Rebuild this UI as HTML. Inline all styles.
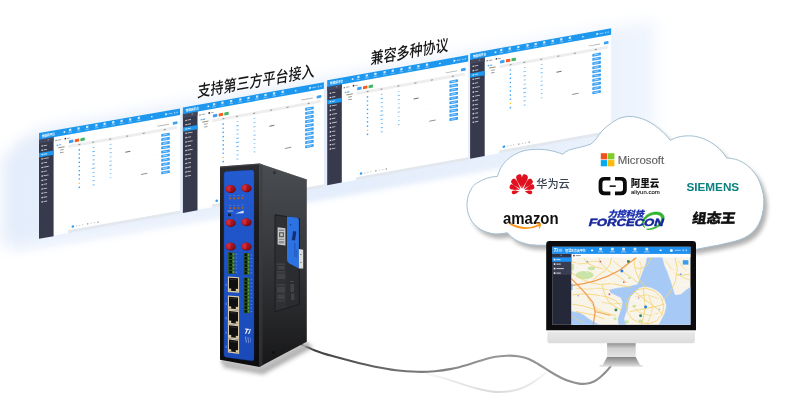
<!DOCTYPE html>
<html lang="zh-CN">
<head>
<meta charset="utf-8">
<title>支持第三方平台接入 兼容多种协议</title>
<style>
html,body{margin:0;padding:0;background:#ffffff;}
body{width:800px;height:418px;overflow:hidden;font-family:"Liberation Sans","Noto Sans CJK SC",sans-serif;}
svg{display:block;}
text{font-family:"Liberation Sans","Noto Sans CJK SC",sans-serif;}
</style>
</head>
<body>
<svg width="800" height="418" viewBox="0 0 800 418">
<defs>
<filter id="b1" x="-20%" y="-200%" width="140%" height="500%"><feGaussianBlur stdDeviation="1"/></filter>
<filter id="b2" x="-30%" y="-30%" width="160%" height="160%"><feGaussianBlur stdDeviation="2.2"/></filter>
<filter id="b3" x="-30%" y="-30%" width="160%" height="160%"><feGaussianBlur stdDeviation="3.5"/></filter>
<filter id="bg" x="-20%" y="-40%" width="140%" height="180%"><feGaussianBlur stdDeviation="8"/></filter>
<filter id="bg3" x="-20%" y="-40%" width="140%" height="180%"><feGaussianBlur stdDeviation="2.6"/></filter>
<linearGradient id="sideG" x1="0" y1="0" x2="0" y2="1">
<stop offset="0" stop-color="#4a4d51"/><stop offset="0.4" stop-color="#383a3e"/><stop offset="0.75" stop-color="#262729"/><stop offset="1" stop-color="#161617"/>
</linearGradient>
<linearGradient id="frontG" x1="0" y1="0" x2="0" y2="1">
<stop offset="0" stop-color="#2c2d30"/><stop offset="0.3" stop-color="#1c1c1f"/><stop offset="1" stop-color="#0c0c0e"/>
</linearGradient>
<linearGradient id="blueG" x1="0" y1="0" x2="0" y2="1">
<stop offset="0" stop-color="#245bd0"/><stop offset="0.5" stop-color="#1d52c4"/><stop offset="1" stop-color="#1a4ab8"/>
</linearGradient>
<radialGradient id="redG" cx="0.4" cy="0.35" r="0.7">
<stop offset="0" stop-color="#d02a36"/><stop offset="0.55" stop-color="#b41824"/><stop offset="1" stop-color="#7a0c14"/>
</radialGradient>
<linearGradient id="neckG" x1="0" y1="0" x2="0" y2="1">
<stop offset="0" stop-color="#8a8a8a"/><stop offset="0.4" stop-color="#cfcfcf"/><stop offset="1" stop-color="#e4e4e4"/>
</linearGradient>
<linearGradient id="baseG" x1="0" y1="0" x2="0" y2="1">
<stop offset="0" stop-color="#858585"/><stop offset="0.6" stop-color="#b4b4b4"/><stop offset="1" stop-color="#d2d2d2"/>
</linearGradient>
<linearGradient id="chinG" x1="0" y1="0" x2="0" y2="1">
<stop offset="0" stop-color="#e9e9e9"/><stop offset="1" stop-color="#dcdcdc"/>
</linearGradient>
<linearGradient id="cableG" x1="303" y1="0" x2="612" y2="0" gradientUnits="userSpaceOnUse">
<stop offset="0" stop-color="#3a3a3a"/><stop offset="0.3" stop-color="#6e6e6e"/><stop offset="0.6" stop-color="#979797"/><stop offset="1" stop-color="#8c8c8c"/>
</linearGradient>
<linearGradient id="cable2G" x1="415" y1="0" x2="548" y2="0" gradientUnits="userSpaceOnUse">
<stop offset="0" stop-color="#e4e4e4" stop-opacity="0"/><stop offset="0.3" stop-color="#e2e2e2" stop-opacity="0.8"/><stop offset="0.6" stop-color="#dadada"/><stop offset="0.85" stop-color="#e0e0e0" stop-opacity="0.8"/><stop offset="1" stop-color="#e6e6e6" stop-opacity="0.3"/>
</linearGradient>
<linearGradient id="glowG" x1="0" y1="0" x2="665" y2="0" gradientUnits="userSpaceOnUse">
<stop offset="0" stop-color="#e4edfb"/><stop offset="0.6" stop-color="#e6effc"/><stop offset="0.9" stop-color="#ebf2fc"/><stop offset="1" stop-color="#f3f7fe"/>
</linearGradient>
<linearGradient id="glowG2" x1="0" y1="0" x2="632" y2="0" gradientUnits="userSpaceOnUse">
<stop offset="0" stop-color="#e9f0fc"/><stop offset="0.5" stop-color="#eef3fd"/><stop offset="1" stop-color="#f4f7fe"/>
</linearGradient>
<linearGradient id="glowB" x1="14" y1="0" x2="648" y2="0" gradientUnits="userSpaceOnUse">
<stop offset="0" stop-color="#e4edfb" stop-opacity="0.25"/><stop offset="0.28" stop-color="#e4edfb" stop-opacity="0.6"/><stop offset="0.5" stop-color="#e4edfb" stop-opacity="1"/><stop offset="0.9" stop-color="#e8f0fc" stop-opacity="0.9"/><stop offset="1" stop-color="#eef4fd" stop-opacity="0.4"/>
</linearGradient>
<clipPath id="mapClip"><rect x="571.2" y="254" width="119.2" height="70.8"/></clipPath>
</defs>
<rect width="800" height="418" fill="#ffffff"/>
<g opacity="0.999">

<polygon points="2.0,157.7 36.0,130.6 656.0,19.6 656.0,133.1 2.0,248.2" fill="url(#glowG)" filter="url(#bg)"/>
<polygon points="14.0,141.5 648.0,29.0 648.0,142.0 14.0,254.5" fill="url(#glowB)" filter="url(#bg3)"/>
<g transform="matrix(1,-0.175,0,1,39,133.1)">
<rect x="0" y="0" width="141" height="102.4" fill="#ffffff"/>
<rect x="14" y="102" width="15.4" height="3" fill="#ffffff" opacity="0.9"/>
<rect x="29.2" y="102.3" width="111.8" height="2.7" fill="#e3e8ef"/>
<rect x="0" y="6" width="14.6" height="99.7" fill="#37394c"/>
<rect x="0" y="6" width="14.6" height="4.6" fill="#44475b"/>
<rect x="8.6" y="7.8" width="1.6" height="1" fill="#8d90a3"/>
<rect x="0" y="0" width="141" height="6.6" fill="#1e98ef"/>
<text x="2.9" y="4.8" font-size="3.5" font-weight="700" fill="#ffffff" font-family="'Liberation Sans','Noto Sans CJK SC',sans-serif" textLength="13" lengthAdjust="spacingAndGlyphs">物联网平台</text>
<rect x="24.6" y="2.6" width="1.6" height="1.5" fill="#ffffff" opacity="0.95"/>
<rect x="30.05" y="1.1" width="2.3" height="2.3" rx="0.6" fill="#ffffff" opacity="0.78"/>
<rect x="29.30" y="4.3" width="3.8" height="0.8" fill="#ffffff" opacity="0.45"/>
<rect x="38.45" y="1.1" width="2.3" height="2.3" rx="0.6" fill="#ffffff" opacity="0.78"/>
<rect x="37.70" y="4.3" width="3.8" height="0.8" fill="#ffffff" opacity="0.45"/>
<rect x="47.05" y="1.1" width="2.3" height="2.3" rx="0.6" fill="#ffffff" opacity="0.78"/>
<rect x="46.30" y="4.3" width="3.8" height="0.8" fill="#ffffff" opacity="0.45"/>
<rect x="56.25" y="1.1" width="2.3" height="2.3" rx="0.6" fill="#ffffff" opacity="0.78"/>
<rect x="55.50" y="4.3" width="3.8" height="0.8" fill="#ffffff" opacity="0.45"/>
<rect x="64.45" y="1.1" width="2.3" height="2.3" rx="0.6" fill="#ffffff" opacity="0.78"/>
<rect x="63.70" y="4.3" width="3.8" height="0.8" fill="#ffffff" opacity="0.45"/>
<rect x="73.05" y="1.1" width="2.3" height="2.3" rx="0.6" fill="#ffffff" opacity="0.78"/>
<rect x="72.30" y="4.3" width="3.8" height="0.8" fill="#ffffff" opacity="0.45"/>
<rect x="81.45" y="1.1" width="2.3" height="2.3" rx="0.6" fill="#ffffff" opacity="0.78"/>
<rect x="80.70" y="4.3" width="3.8" height="0.8" fill="#ffffff" opacity="0.45"/>
<rect x="90.05" y="1.1" width="2.3" height="2.3" rx="0.6" fill="#ffffff" opacity="0.78"/>
<rect x="89.30" y="4.3" width="3.8" height="0.8" fill="#ffffff" opacity="0.45"/>
<rect x="98.65" y="1.1" width="2.3" height="2.3" rx="0.6" fill="#ffffff" opacity="0.78"/>
<rect x="97.90" y="4.3" width="3.8" height="0.8" fill="#ffffff" opacity="0.45"/>
<rect x="112" y="2.8" width="1.5" height="1.3" fill="#ffffff" opacity="0.9"/>
<path d="M126.4 2 l2.2 1.4 l-2.2 1.4z" fill="#ffffff"/>
<rect x="129.4" y="3" width="4" height="0.9" fill="#ffffff" opacity="0.5"/>
<rect x="135" y="2.6" width="1.2" height="1.6" fill="#ffffff" opacity="0.55"/>
<rect x="137.4" y="2.6" width="1.2" height="1.6" fill="#ffffff" opacity="0.55"/>
<rect x="2.5" y="12.80" width="1.3" height="1.3" fill="#ffffff" opacity="0.9"/>
<rect x="4.5" y="12.95" width="3.6" height="0.9" fill="#ffffff" opacity="0.7"/>
<rect x="2.5" y="17.10" width="1.3" height="1.3" fill="#ffffff" opacity="0.9"/>
<rect x="4.5" y="17.25" width="3.6" height="0.9" fill="#ffffff" opacity="0.7"/>
<rect x="0" y="20.0" width="14.6" height="4.3" fill="#1e98ef"/>
<rect x="2.5" y="21.40" width="1.3" height="1.3" fill="#ffffff" opacity="0.9"/>
<rect x="4.5" y="21.55" width="3.6" height="0.9" fill="#ffffff" opacity="0.7"/>
<rect x="2.5" y="25.70" width="1.3" height="1.3" fill="#ffffff" opacity="0.9"/>
<rect x="4.5" y="25.85" width="5.2" height="0.9" fill="#ffffff" opacity="0.7"/>
<rect x="2.5" y="30.00" width="1.3" height="1.3" fill="#ffffff" opacity="0.9"/>
<rect x="4.5" y="30.15" width="3.6" height="0.9" fill="#ffffff" opacity="0.7"/>
<rect x="2.5" y="34.30" width="1.3" height="1.3" fill="#ffffff" opacity="0.9"/>
<rect x="4.5" y="34.45" width="5.2" height="0.9" fill="#ffffff" opacity="0.7"/>
<rect x="2.5" y="38.60" width="1.3" height="1.3" fill="#ffffff" opacity="0.9"/>
<rect x="4.5" y="38.75" width="3.6" height="0.9" fill="#ffffff" opacity="0.7"/>
<rect x="2.5" y="42.90" width="1.3" height="1.3" fill="#ffffff" opacity="0.9"/>
<rect x="4.5" y="43.05" width="5.2" height="0.9" fill="#ffffff" opacity="0.7"/>
<rect x="2.5" y="47.20" width="1.3" height="1.3" fill="#ffffff" opacity="0.9"/>
<rect x="4.5" y="47.35" width="3.6" height="0.9" fill="#ffffff" opacity="0.7"/>
<rect x="2.5" y="51.50" width="1.3" height="1.3" fill="#ffffff" opacity="0.9"/>
<rect x="4.5" y="51.65" width="3.6" height="0.9" fill="#ffffff" opacity="0.7"/>
<rect x="2.5" y="55.80" width="1.3" height="1.3" fill="#ffffff" opacity="0.9"/>
<rect x="4.5" y="55.95" width="3.6" height="0.9" fill="#ffffff" opacity="0.7"/>
<rect x="2.5" y="60.10" width="1.3" height="1.3" fill="#ffffff" opacity="0.9"/>
<rect x="4.5" y="60.25" width="3.6" height="0.9" fill="#ffffff" opacity="0.7"/>
<rect x="2.5" y="64.40" width="1.3" height="1.3" fill="#ffffff" opacity="0.9"/>
<rect x="4.5" y="64.55" width="3.6" height="0.9" fill="#ffffff" opacity="0.7"/>
<rect x="2.5" y="68.70" width="1.3" height="1.3" fill="#ffffff" opacity="0.9"/>
<rect x="4.5" y="68.85" width="3.6" height="0.9" fill="#ffffff" opacity="0.7"/>
<rect x="16.4" y="9.8" width="1.4" height="1.3" fill="#666" opacity="0.8"/>
<rect x="18.6" y="10" width="3.6" height="0.9" fill="#777" opacity="0.7"/>
<rect x="25.6" y="9.4" width="1.5" height="1.6" fill="#333"/>
<rect x="27.8" y="9.9" width="3" height="0.9" fill="#777" opacity="0.7"/>
<rect x="17.6" y="14.8" width="1.4" height="1.4" fill="#5aaef2"/>
<rect x="19.6" y="15" width="2.6" height="0.9" fill="#3d9cf0"/>
<rect x="19.2" y="17.6" width="6.4" height="1" fill="#8a7a5a" opacity="0.85"/>
<rect x="21" y="20.2" width="3.6" height="0.9" fill="#777" opacity="0.8"/>
<rect x="21" y="22.9" width="3.6" height="0.9" fill="#777" opacity="0.8"/>
<rect x="30" y="12.4" width="4.4" height="3" rx="0.5" fill="#3aa0f3"/>
<rect x="35.8" y="12.4" width="4.4" height="3" rx="0.5" fill="#fb5a1e"/>
<rect x="41.4" y="12.4" width="4.4" height="3" rx="0.5" fill="#3fb65f"/>
<rect x="118.5" y="13.4" width="11.5" height="0.9" fill="#999" opacity="0.7"/>
<rect x="133.8" y="12.3" width="4.6" height="2.8" rx="0.5" fill="#3aa0f3"/>
<rect x="29.4" y="17" width="108.2" height="3" fill="#eeeeee"/>
<rect x="39.400000000000006" y="18" width="2" height="1" fill="#777" opacity="0.8"/>
<rect x="53.2" y="18" width="2" height="1" fill="#777" opacity="0.8"/>
<rect x="70.2" y="18" width="2" height="1" fill="#777" opacity="0.8"/>
<rect x="87.2" y="18" width="2" height="1" fill="#777" opacity="0.8"/>
<rect x="103.7" y="18" width="2" height="1" fill="#777" opacity="0.8"/>
<rect x="124.7" y="18" width="2" height="1" fill="#777" opacity="0.8"/>
<rect x="39.6" y="23.10" width="1.4" height="1.4" fill="#3aa0f3"/>
<rect x="53.80" y="23.35" width="1.6" height="0.9" fill="#5aaef2" opacity="0.9"/>
<rect x="70.80" y="23.35" width="1.6" height="0.9" fill="#5aaef2" opacity="0.8"/>
<rect x="122.2" y="22.40" width="8.6" height="2.8" rx="0.5" fill="#3aa0f3"/>
<rect x="124" y="23.35" width="4.4" height="0.8" fill="#ffffff" opacity="0.6"/>
<rect x="29.4" y="25.80" width="108.2" height="0.25" fill="#eef1f5" opacity="0.45"/>
<rect x="39.6" y="27.27" width="1.4" height="1.4" fill="#3aa0f3"/>
<rect x="53.30" y="27.52" width="2.6" height="0.9" fill="#5aaef2" opacity="0.9"/>
<rect x="70.40" y="27.52" width="2.4" height="0.9" fill="#5aaef2" opacity="0.8"/>
<rect x="122.2" y="26.57" width="8.6" height="2.8" rx="0.5" fill="#3aa0f3"/>
<rect x="124" y="27.52" width="4.4" height="0.8" fill="#ffffff" opacity="0.6"/>
<rect x="29.4" y="29.97" width="108.2" height="0.25" fill="#eef1f5" opacity="0.45"/>
<rect x="39.6" y="31.44" width="1.4" height="1.4" fill="#3aa0f3"/>
<rect x="53.30" y="31.69" width="2.6" height="0.9" fill="#5aaef2" opacity="0.9"/>
<rect x="70.40" y="31.69" width="2.4" height="0.9" fill="#5aaef2" opacity="0.8"/>
<rect x="122.2" y="30.74" width="8.6" height="2.8" rx="0.5" fill="#3aa0f3"/>
<rect x="124" y="31.69" width="4.4" height="0.8" fill="#ffffff" opacity="0.6"/>
<rect x="29.4" y="34.14" width="108.2" height="0.25" fill="#eef1f5" opacity="0.45"/>
<rect x="39.6" y="35.61" width="1.4" height="1.4" fill="#3aa0f3"/>
<rect x="53.60" y="35.86" width="2" height="0.9" fill="#5aaef2" opacity="0.9"/>
<rect x="70.80" y="35.86" width="1.6" height="0.9" fill="#5aaef2" opacity="0.8"/>
<rect x="122.2" y="34.91" width="8.6" height="2.8" rx="0.5" fill="#3aa0f3"/>
<rect x="124" y="35.86" width="4.4" height="0.8" fill="#ffffff" opacity="0.6"/>
<rect x="29.4" y="38.31" width="108.2" height="0.25" fill="#eef1f5" opacity="0.45"/>
<rect x="39.6" y="39.78" width="1.4" height="1.4" fill="#3aa0f3"/>
<rect x="53.30" y="40.03" width="2.6" height="0.9" fill="#5aaef2" opacity="0.9"/>
<rect x="70.40" y="40.03" width="2.4" height="0.9" fill="#5aaef2" opacity="0.8"/>
<rect x="122.2" y="39.08" width="8.6" height="2.8" rx="0.5" fill="#3aa0f3"/>
<rect x="124" y="40.03" width="4.4" height="0.8" fill="#ffffff" opacity="0.6"/>
<rect x="29.4" y="42.48" width="108.2" height="0.25" fill="#eef1f5" opacity="0.45"/>
<rect x="39.6" y="43.95" width="1.4" height="1.4" fill="#3aa0f3"/>
<rect x="52.90" y="44.20" width="3.4" height="0.9" fill="#5aaef2" opacity="0.9"/>
<rect x="70.40" y="44.20" width="2.4" height="0.9" fill="#5aaef2" opacity="0.8"/>
<rect x="122.2" y="43.25" width="8.6" height="2.8" rx="0.5" fill="#3aa0f3"/>
<rect x="124" y="44.20" width="4.4" height="0.8" fill="#ffffff" opacity="0.6"/>
<rect x="29.4" y="46.65" width="108.2" height="0.25" fill="#eef1f5" opacity="0.45"/>
<rect x="39.6" y="48.12" width="1.4" height="1.4" fill="#3aa0f3"/>
<rect x="53.30" y="48.37" width="2.6" height="0.9" fill="#5aaef2" opacity="0.9"/>
<rect x="70.80" y="48.37" width="1.6" height="0.9" fill="#5aaef2" opacity="0.8"/>
<rect x="122.2" y="47.42" width="8.6" height="2.8" rx="0.5" fill="#3aa0f3"/>
<rect x="124" y="48.37" width="4.4" height="0.8" fill="#ffffff" opacity="0.6"/>
<rect x="29.4" y="50.82" width="108.2" height="0.25" fill="#eef1f5" opacity="0.45"/>
<rect x="39.6" y="52.29" width="1.4" height="1.4" fill="#3aa0f3"/>
<rect x="53.60" y="52.54" width="2" height="0.9" fill="#5aaef2" opacity="0.9"/>
<rect x="70.80" y="52.54" width="1.6" height="0.9" fill="#5aaef2" opacity="0.8"/>
<rect x="122.2" y="51.59" width="8.6" height="2.8" rx="0.5" fill="#3aa0f3"/>
<rect x="124" y="52.54" width="4.4" height="0.8" fill="#ffffff" opacity="0.6"/>
<rect x="29.4" y="54.99" width="108.2" height="0.25" fill="#eef1f5" opacity="0.45"/>
<rect x="39.6" y="56.46" width="1.4" height="1.4" fill="#f2c531"/>
<rect x="53.40" y="56.71" width="2.4" height="0.9" fill="#5aaef2" opacity="0.9"/>
<rect x="70.80" y="56.71" width="1.6" height="0.9" fill="#5aaef2" opacity="0.8"/>
<rect x="122.2" y="55.76" width="8.6" height="2.8" rx="0.5" fill="#3aa0f3"/>
<rect x="124" y="56.71" width="4.4" height="0.8" fill="#ffffff" opacity="0.6"/>
<rect x="29.4" y="59.16" width="108.2" height="0.25" fill="#eef1f5" opacity="0.45"/>
<rect x="39.6" y="60.63" width="1.4" height="1.4" fill="#3aa0f3"/>
<rect x="53.60" y="60.88" width="2" height="0.9" fill="#5aaef2" opacity="0.9"/>
<rect x="122.2" y="59.93" width="8.6" height="2.8" rx="0.5" fill="#3aa0f3"/>
<rect x="124" y="60.88" width="4.4" height="0.8" fill="#ffffff" opacity="0.6"/>
<rect x="29.4" y="63.33" width="108.2" height="0.25" fill="#eef1f5" opacity="0.45"/>
<rect x="86.4" y="33.7" width="5" height="1" fill="#555" opacity="0.85"/>
<rect x="102" y="58.7" width="6.4" height="1" fill="#777" opacity="0.8"/>
<circle cx="33.8" cy="99.3" r="1.3" fill="#2f9bf1"/>
<rect x="37.0" y="98.8" width="1.3" height="1" fill="#bbb" opacity="0.8"/>
<rect x="40.0" y="98.8" width="1.3" height="1" fill="#bbb" opacity="0.8"/>
<rect x="43.0" y="98.8" width="1.3" height="1" fill="#bbb" opacity="0.8"/>
<rect x="48.0" y="98.8" width="1.3" height="1" fill="#555" opacity="0.8"/>
<rect x="51.8" y="98.8" width="1.3" height="1" fill="#bbb" opacity="0.8"/>
<rect x="54.8" y="98.8" width="1.3" height="1" fill="#bbb" opacity="0.8"/>
<rect x="58.4" y="98.8" width="1.3" height="1" fill="#555" opacity="0.8"/>
</g>
<g transform="matrix(1,-0.18,0,1,182.9,107.55)">
<rect x="0" y="0" width="141" height="102.4" fill="#ffffff"/>
<rect x="14" y="102" width="15.4" height="3" fill="#ffffff" opacity="0.9"/>
<rect x="29.2" y="102.3" width="111.8" height="2.7" fill="#e3e8ef"/>
<rect x="0" y="6" width="14.6" height="99.4" fill="#37394c"/>
<rect x="0" y="6" width="14.6" height="4.6" fill="#44475b"/>
<rect x="8.6" y="7.8" width="1.6" height="1" fill="#8d90a3"/>
<rect x="0" y="0" width="141" height="6.6" fill="#1e98ef"/>
<text x="2.9" y="4.8" font-size="3.5" font-weight="700" fill="#ffffff" font-family="'Liberation Sans','Noto Sans CJK SC',sans-serif" textLength="13" lengthAdjust="spacingAndGlyphs">物联网平台</text>
<rect x="24.6" y="2.6" width="1.6" height="1.5" fill="#ffffff" opacity="0.95"/>
<rect x="30.05" y="1.1" width="2.3" height="2.3" rx="0.6" fill="#ffffff" opacity="0.78"/>
<rect x="29.30" y="4.3" width="3.8" height="0.8" fill="#ffffff" opacity="0.45"/>
<rect x="38.45" y="1.1" width="2.3" height="2.3" rx="0.6" fill="#ffffff" opacity="0.78"/>
<rect x="37.70" y="4.3" width="3.8" height="0.8" fill="#ffffff" opacity="0.45"/>
<rect x="47.05" y="1.1" width="2.3" height="2.3" rx="0.6" fill="#ffffff" opacity="0.78"/>
<rect x="46.30" y="4.3" width="3.8" height="0.8" fill="#ffffff" opacity="0.45"/>
<rect x="56.25" y="1.1" width="2.3" height="2.3" rx="0.6" fill="#ffffff" opacity="0.78"/>
<rect x="55.50" y="4.3" width="3.8" height="0.8" fill="#ffffff" opacity="0.45"/>
<rect x="64.45" y="1.1" width="2.3" height="2.3" rx="0.6" fill="#ffffff" opacity="0.78"/>
<rect x="63.70" y="4.3" width="3.8" height="0.8" fill="#ffffff" opacity="0.45"/>
<rect x="73.05" y="1.1" width="2.3" height="2.3" rx="0.6" fill="#ffffff" opacity="0.78"/>
<rect x="72.30" y="4.3" width="3.8" height="0.8" fill="#ffffff" opacity="0.45"/>
<rect x="81.45" y="1.1" width="2.3" height="2.3" rx="0.6" fill="#ffffff" opacity="0.78"/>
<rect x="80.70" y="4.3" width="3.8" height="0.8" fill="#ffffff" opacity="0.45"/>
<rect x="90.05" y="1.1" width="2.3" height="2.3" rx="0.6" fill="#ffffff" opacity="0.78"/>
<rect x="89.30" y="4.3" width="3.8" height="0.8" fill="#ffffff" opacity="0.45"/>
<rect x="98.65" y="1.1" width="2.3" height="2.3" rx="0.6" fill="#ffffff" opacity="0.78"/>
<rect x="97.90" y="4.3" width="3.8" height="0.8" fill="#ffffff" opacity="0.45"/>
<rect x="112" y="2.8" width="1.5" height="1.3" fill="#ffffff" opacity="0.9"/>
<path d="M126.4 2 l2.2 1.4 l-2.2 1.4z" fill="#ffffff"/>
<rect x="129.4" y="3" width="4" height="0.9" fill="#ffffff" opacity="0.5"/>
<rect x="135" y="2.6" width="1.2" height="1.6" fill="#ffffff" opacity="0.55"/>
<rect x="137.4" y="2.6" width="1.2" height="1.6" fill="#ffffff" opacity="0.55"/>
<rect x="2.5" y="12.80" width="1.3" height="1.3" fill="#ffffff" opacity="0.9"/>
<rect x="4.5" y="12.95" width="3.6" height="0.9" fill="#ffffff" opacity="0.7"/>
<rect x="2.5" y="17.10" width="1.3" height="1.3" fill="#ffffff" opacity="0.9"/>
<rect x="4.5" y="17.25" width="3.6" height="0.9" fill="#ffffff" opacity="0.7"/>
<rect x="0" y="20.0" width="14.6" height="4.3" fill="#1e98ef"/>
<rect x="2.5" y="21.40" width="1.3" height="1.3" fill="#ffffff" opacity="0.9"/>
<rect x="4.5" y="21.55" width="3.6" height="0.9" fill="#ffffff" opacity="0.7"/>
<rect x="2.5" y="25.70" width="1.3" height="1.3" fill="#ffffff" opacity="0.9"/>
<rect x="4.5" y="25.85" width="5.2" height="0.9" fill="#ffffff" opacity="0.7"/>
<rect x="2.5" y="30.00" width="1.3" height="1.3" fill="#ffffff" opacity="0.9"/>
<rect x="4.5" y="30.15" width="3.6" height="0.9" fill="#ffffff" opacity="0.7"/>
<rect x="2.5" y="34.30" width="1.3" height="1.3" fill="#ffffff" opacity="0.9"/>
<rect x="4.5" y="34.45" width="5.2" height="0.9" fill="#ffffff" opacity="0.7"/>
<rect x="2.5" y="38.60" width="1.3" height="1.3" fill="#ffffff" opacity="0.9"/>
<rect x="4.5" y="38.75" width="3.6" height="0.9" fill="#ffffff" opacity="0.7"/>
<rect x="2.5" y="42.90" width="1.3" height="1.3" fill="#ffffff" opacity="0.9"/>
<rect x="4.5" y="43.05" width="5.2" height="0.9" fill="#ffffff" opacity="0.7"/>
<rect x="2.5" y="47.20" width="1.3" height="1.3" fill="#ffffff" opacity="0.9"/>
<rect x="4.5" y="47.35" width="3.6" height="0.9" fill="#ffffff" opacity="0.7"/>
<rect x="2.5" y="51.50" width="1.3" height="1.3" fill="#ffffff" opacity="0.9"/>
<rect x="4.5" y="51.65" width="3.6" height="0.9" fill="#ffffff" opacity="0.7"/>
<rect x="2.5" y="55.80" width="1.3" height="1.3" fill="#ffffff" opacity="0.9"/>
<rect x="4.5" y="55.95" width="3.6" height="0.9" fill="#ffffff" opacity="0.7"/>
<rect x="2.5" y="60.10" width="1.3" height="1.3" fill="#ffffff" opacity="0.9"/>
<rect x="4.5" y="60.25" width="3.6" height="0.9" fill="#ffffff" opacity="0.7"/>
<rect x="2.5" y="64.40" width="1.3" height="1.3" fill="#ffffff" opacity="0.9"/>
<rect x="4.5" y="64.55" width="3.6" height="0.9" fill="#ffffff" opacity="0.7"/>
<rect x="2.5" y="68.70" width="1.3" height="1.3" fill="#ffffff" opacity="0.9"/>
<rect x="4.5" y="68.85" width="3.6" height="0.9" fill="#ffffff" opacity="0.7"/>
<rect x="16.4" y="9.8" width="1.4" height="1.3" fill="#666" opacity="0.8"/>
<rect x="18.6" y="10" width="3.6" height="0.9" fill="#777" opacity="0.7"/>
<rect x="25.6" y="9.4" width="1.5" height="1.6" fill="#333"/>
<rect x="27.8" y="9.9" width="3" height="0.9" fill="#777" opacity="0.7"/>
<rect x="17.6" y="14.8" width="1.4" height="1.4" fill="#5aaef2"/>
<rect x="19.6" y="15" width="2.6" height="0.9" fill="#3d9cf0"/>
<rect x="19.2" y="17.6" width="6.4" height="1" fill="#8a7a5a" opacity="0.85"/>
<rect x="21" y="20.2" width="3.6" height="0.9" fill="#777" opacity="0.8"/>
<rect x="21" y="22.9" width="3.6" height="0.9" fill="#777" opacity="0.8"/>
<rect x="30" y="12.4" width="4.4" height="3" rx="0.5" fill="#3aa0f3"/>
<rect x="35.8" y="12.4" width="4.4" height="3" rx="0.5" fill="#fb5a1e"/>
<rect x="41.4" y="12.4" width="4.4" height="3" rx="0.5" fill="#3fb65f"/>
<rect x="118.5" y="13.4" width="11.5" height="0.9" fill="#999" opacity="0.7"/>
<rect x="133.8" y="12.3" width="4.6" height="2.8" rx="0.5" fill="#3aa0f3"/>
<rect x="29.4" y="17" width="108.2" height="3" fill="#eeeeee"/>
<rect x="39.400000000000006" y="18" width="2" height="1" fill="#777" opacity="0.8"/>
<rect x="53.2" y="18" width="2" height="1" fill="#777" opacity="0.8"/>
<rect x="70.2" y="18" width="2" height="1" fill="#777" opacity="0.8"/>
<rect x="87.2" y="18" width="2" height="1" fill="#777" opacity="0.8"/>
<rect x="103.7" y="18" width="2" height="1" fill="#777" opacity="0.8"/>
<rect x="124.7" y="18" width="2" height="1" fill="#777" opacity="0.8"/>
<rect x="39.6" y="23.10" width="1.4" height="1.4" fill="#3aa0f3"/>
<rect x="53.80" y="23.35" width="1.6" height="0.9" fill="#5aaef2" opacity="0.9"/>
<rect x="70.80" y="23.35" width="1.6" height="0.9" fill="#5aaef2" opacity="0.8"/>
<rect x="122.2" y="22.40" width="8.6" height="2.8" rx="0.5" fill="#3aa0f3"/>
<rect x="124" y="23.35" width="4.4" height="0.8" fill="#ffffff" opacity="0.6"/>
<rect x="29.4" y="25.80" width="108.2" height="0.25" fill="#eef1f5" opacity="0.45"/>
<rect x="39.6" y="27.27" width="1.4" height="1.4" fill="#3aa0f3"/>
<rect x="53.30" y="27.52" width="2.6" height="0.9" fill="#5aaef2" opacity="0.9"/>
<rect x="70.40" y="27.52" width="2.4" height="0.9" fill="#5aaef2" opacity="0.8"/>
<rect x="122.2" y="26.57" width="8.6" height="2.8" rx="0.5" fill="#3aa0f3"/>
<rect x="124" y="27.52" width="4.4" height="0.8" fill="#ffffff" opacity="0.6"/>
<rect x="29.4" y="29.97" width="108.2" height="0.25" fill="#eef1f5" opacity="0.45"/>
<rect x="39.6" y="31.44" width="1.4" height="1.4" fill="#3aa0f3"/>
<rect x="53.30" y="31.69" width="2.6" height="0.9" fill="#5aaef2" opacity="0.9"/>
<rect x="70.40" y="31.69" width="2.4" height="0.9" fill="#5aaef2" opacity="0.8"/>
<rect x="122.2" y="30.74" width="8.6" height="2.8" rx="0.5" fill="#3aa0f3"/>
<rect x="124" y="31.69" width="4.4" height="0.8" fill="#ffffff" opacity="0.6"/>
<rect x="29.4" y="34.14" width="108.2" height="0.25" fill="#eef1f5" opacity="0.45"/>
<rect x="39.6" y="35.61" width="1.4" height="1.4" fill="#3aa0f3"/>
<rect x="53.60" y="35.86" width="2" height="0.9" fill="#5aaef2" opacity="0.9"/>
<rect x="70.80" y="35.86" width="1.6" height="0.9" fill="#5aaef2" opacity="0.8"/>
<rect x="122.2" y="34.91" width="8.6" height="2.8" rx="0.5" fill="#3aa0f3"/>
<rect x="124" y="35.86" width="4.4" height="0.8" fill="#ffffff" opacity="0.6"/>
<rect x="29.4" y="38.31" width="108.2" height="0.25" fill="#eef1f5" opacity="0.45"/>
<rect x="39.6" y="39.78" width="1.4" height="1.4" fill="#3aa0f3"/>
<rect x="53.30" y="40.03" width="2.6" height="0.9" fill="#5aaef2" opacity="0.9"/>
<rect x="70.40" y="40.03" width="2.4" height="0.9" fill="#5aaef2" opacity="0.8"/>
<rect x="122.2" y="39.08" width="8.6" height="2.8" rx="0.5" fill="#3aa0f3"/>
<rect x="124" y="40.03" width="4.4" height="0.8" fill="#ffffff" opacity="0.6"/>
<rect x="29.4" y="42.48" width="108.2" height="0.25" fill="#eef1f5" opacity="0.45"/>
<rect x="39.6" y="43.95" width="1.4" height="1.4" fill="#3aa0f3"/>
<rect x="52.90" y="44.20" width="3.4" height="0.9" fill="#5aaef2" opacity="0.9"/>
<rect x="70.40" y="44.20" width="2.4" height="0.9" fill="#5aaef2" opacity="0.8"/>
<rect x="122.2" y="43.25" width="8.6" height="2.8" rx="0.5" fill="#3aa0f3"/>
<rect x="124" y="44.20" width="4.4" height="0.8" fill="#ffffff" opacity="0.6"/>
<rect x="29.4" y="46.65" width="108.2" height="0.25" fill="#eef1f5" opacity="0.45"/>
<rect x="39.6" y="48.12" width="1.4" height="1.4" fill="#3aa0f3"/>
<rect x="53.30" y="48.37" width="2.6" height="0.9" fill="#5aaef2" opacity="0.9"/>
<rect x="70.80" y="48.37" width="1.6" height="0.9" fill="#5aaef2" opacity="0.8"/>
<rect x="122.2" y="47.42" width="8.6" height="2.8" rx="0.5" fill="#3aa0f3"/>
<rect x="124" y="48.37" width="4.4" height="0.8" fill="#ffffff" opacity="0.6"/>
<rect x="29.4" y="50.82" width="108.2" height="0.25" fill="#eef1f5" opacity="0.45"/>
<rect x="39.6" y="52.29" width="1.4" height="1.4" fill="#3aa0f3"/>
<rect x="53.60" y="52.54" width="2" height="0.9" fill="#5aaef2" opacity="0.9"/>
<rect x="70.80" y="52.54" width="1.6" height="0.9" fill="#5aaef2" opacity="0.8"/>
<rect x="122.2" y="51.59" width="8.6" height="2.8" rx="0.5" fill="#3aa0f3"/>
<rect x="124" y="52.54" width="4.4" height="0.8" fill="#ffffff" opacity="0.6"/>
<rect x="29.4" y="54.99" width="108.2" height="0.25" fill="#eef1f5" opacity="0.45"/>
<rect x="39.6" y="56.46" width="1.4" height="1.4" fill="#f2c531"/>
<rect x="53.40" y="56.71" width="2.4" height="0.9" fill="#5aaef2" opacity="0.9"/>
<rect x="70.80" y="56.71" width="1.6" height="0.9" fill="#5aaef2" opacity="0.8"/>
<rect x="122.2" y="55.76" width="8.6" height="2.8" rx="0.5" fill="#3aa0f3"/>
<rect x="124" y="56.71" width="4.4" height="0.8" fill="#ffffff" opacity="0.6"/>
<rect x="29.4" y="59.16" width="108.2" height="0.25" fill="#eef1f5" opacity="0.45"/>
<rect x="39.6" y="60.63" width="1.4" height="1.4" fill="#3aa0f3"/>
<rect x="53.60" y="60.88" width="2" height="0.9" fill="#5aaef2" opacity="0.9"/>
<rect x="122.2" y="59.93" width="8.6" height="2.8" rx="0.5" fill="#3aa0f3"/>
<rect x="124" y="60.88" width="4.4" height="0.8" fill="#ffffff" opacity="0.6"/>
<rect x="29.4" y="63.33" width="108.2" height="0.25" fill="#eef1f5" opacity="0.45"/>
<rect x="86.4" y="33.7" width="5" height="1" fill="#555" opacity="0.85"/>
<rect x="102" y="58.7" width="6.4" height="1" fill="#777" opacity="0.8"/>
<circle cx="33.8" cy="99.3" r="1.3" fill="#2f9bf1"/>
<rect x="37.0" y="98.8" width="1.3" height="1" fill="#bbb" opacity="0.8"/>
<rect x="40.0" y="98.8" width="1.3" height="1" fill="#bbb" opacity="0.8"/>
<rect x="43.0" y="98.8" width="1.3" height="1" fill="#bbb" opacity="0.8"/>
<rect x="48.0" y="98.8" width="1.3" height="1" fill="#555" opacity="0.8"/>
<rect x="51.8" y="98.8" width="1.3" height="1" fill="#bbb" opacity="0.8"/>
<rect x="54.8" y="98.8" width="1.3" height="1" fill="#bbb" opacity="0.8"/>
<rect x="58.4" y="98.8" width="1.3" height="1" fill="#555" opacity="0.8"/>
</g>
<g transform="matrix(1,-0.1795,0,1,327.2,80.3)">
<rect x="0" y="0" width="141" height="102.4" fill="#ffffff"/>
<rect x="14" y="102" width="15.4" height="3" fill="#ffffff" opacity="0.9"/>
<rect x="29.2" y="102.3" width="111.8" height="2.7" fill="#e3e8ef"/>
<rect x="0" y="6" width="14.6" height="98.9" fill="#37394c"/>
<rect x="0" y="6" width="14.6" height="4.6" fill="#44475b"/>
<rect x="8.6" y="7.8" width="1.6" height="1" fill="#8d90a3"/>
<rect x="0" y="0" width="141" height="6.6" fill="#1e98ef"/>
<text x="2.9" y="4.8" font-size="3.5" font-weight="700" fill="#ffffff" font-family="'Liberation Sans','Noto Sans CJK SC',sans-serif" textLength="13" lengthAdjust="spacingAndGlyphs">物联网平台</text>
<rect x="24.6" y="2.6" width="1.6" height="1.5" fill="#ffffff" opacity="0.95"/>
<rect x="30.05" y="1.1" width="2.3" height="2.3" rx="0.6" fill="#ffffff" opacity="0.78"/>
<rect x="29.30" y="4.3" width="3.8" height="0.8" fill="#ffffff" opacity="0.45"/>
<rect x="38.45" y="1.1" width="2.3" height="2.3" rx="0.6" fill="#ffffff" opacity="0.78"/>
<rect x="37.70" y="4.3" width="3.8" height="0.8" fill="#ffffff" opacity="0.45"/>
<rect x="47.05" y="1.1" width="2.3" height="2.3" rx="0.6" fill="#ffffff" opacity="0.78"/>
<rect x="46.30" y="4.3" width="3.8" height="0.8" fill="#ffffff" opacity="0.45"/>
<rect x="56.25" y="1.1" width="2.3" height="2.3" rx="0.6" fill="#ffffff" opacity="0.78"/>
<rect x="55.50" y="4.3" width="3.8" height="0.8" fill="#ffffff" opacity="0.45"/>
<rect x="64.45" y="1.1" width="2.3" height="2.3" rx="0.6" fill="#ffffff" opacity="0.78"/>
<rect x="63.70" y="4.3" width="3.8" height="0.8" fill="#ffffff" opacity="0.45"/>
<rect x="73.05" y="1.1" width="2.3" height="2.3" rx="0.6" fill="#ffffff" opacity="0.78"/>
<rect x="72.30" y="4.3" width="3.8" height="0.8" fill="#ffffff" opacity="0.45"/>
<rect x="81.45" y="1.1" width="2.3" height="2.3" rx="0.6" fill="#ffffff" opacity="0.78"/>
<rect x="80.70" y="4.3" width="3.8" height="0.8" fill="#ffffff" opacity="0.45"/>
<rect x="90.05" y="1.1" width="2.3" height="2.3" rx="0.6" fill="#ffffff" opacity="0.78"/>
<rect x="89.30" y="4.3" width="3.8" height="0.8" fill="#ffffff" opacity="0.45"/>
<rect x="98.65" y="1.1" width="2.3" height="2.3" rx="0.6" fill="#ffffff" opacity="0.78"/>
<rect x="97.90" y="4.3" width="3.8" height="0.8" fill="#ffffff" opacity="0.45"/>
<rect x="112" y="2.8" width="1.5" height="1.3" fill="#ffffff" opacity="0.9"/>
<path d="M126.4 2 l2.2 1.4 l-2.2 1.4z" fill="#ffffff"/>
<rect x="129.4" y="3" width="4" height="0.9" fill="#ffffff" opacity="0.5"/>
<rect x="135" y="2.6" width="1.2" height="1.6" fill="#ffffff" opacity="0.55"/>
<rect x="137.4" y="2.6" width="1.2" height="1.6" fill="#ffffff" opacity="0.55"/>
<rect x="2.5" y="12.80" width="1.3" height="1.3" fill="#ffffff" opacity="0.9"/>
<rect x="4.5" y="12.95" width="3.6" height="0.9" fill="#ffffff" opacity="0.7"/>
<rect x="2.5" y="17.10" width="1.3" height="1.3" fill="#ffffff" opacity="0.9"/>
<rect x="4.5" y="17.25" width="3.6" height="0.9" fill="#ffffff" opacity="0.7"/>
<rect x="0" y="20.0" width="14.6" height="4.3" fill="#1e98ef"/>
<rect x="2.5" y="21.40" width="1.3" height="1.3" fill="#ffffff" opacity="0.9"/>
<rect x="4.5" y="21.55" width="3.6" height="0.9" fill="#ffffff" opacity="0.7"/>
<rect x="2.5" y="25.70" width="1.3" height="1.3" fill="#ffffff" opacity="0.9"/>
<rect x="4.5" y="25.85" width="5.2" height="0.9" fill="#ffffff" opacity="0.7"/>
<rect x="2.5" y="30.00" width="1.3" height="1.3" fill="#ffffff" opacity="0.9"/>
<rect x="4.5" y="30.15" width="3.6" height="0.9" fill="#ffffff" opacity="0.7"/>
<rect x="2.5" y="34.30" width="1.3" height="1.3" fill="#ffffff" opacity="0.9"/>
<rect x="4.5" y="34.45" width="5.2" height="0.9" fill="#ffffff" opacity="0.7"/>
<rect x="2.5" y="38.60" width="1.3" height="1.3" fill="#ffffff" opacity="0.9"/>
<rect x="4.5" y="38.75" width="3.6" height="0.9" fill="#ffffff" opacity="0.7"/>
<rect x="2.5" y="42.90" width="1.3" height="1.3" fill="#ffffff" opacity="0.9"/>
<rect x="4.5" y="43.05" width="5.2" height="0.9" fill="#ffffff" opacity="0.7"/>
<rect x="2.5" y="47.20" width="1.3" height="1.3" fill="#ffffff" opacity="0.9"/>
<rect x="4.5" y="47.35" width="3.6" height="0.9" fill="#ffffff" opacity="0.7"/>
<rect x="2.5" y="51.50" width="1.3" height="1.3" fill="#ffffff" opacity="0.9"/>
<rect x="4.5" y="51.65" width="3.6" height="0.9" fill="#ffffff" opacity="0.7"/>
<rect x="2.5" y="55.80" width="1.3" height="1.3" fill="#ffffff" opacity="0.9"/>
<rect x="4.5" y="55.95" width="3.6" height="0.9" fill="#ffffff" opacity="0.7"/>
<rect x="2.5" y="60.10" width="1.3" height="1.3" fill="#ffffff" opacity="0.9"/>
<rect x="4.5" y="60.25" width="3.6" height="0.9" fill="#ffffff" opacity="0.7"/>
<rect x="2.5" y="64.40" width="1.3" height="1.3" fill="#ffffff" opacity="0.9"/>
<rect x="4.5" y="64.55" width="3.6" height="0.9" fill="#ffffff" opacity="0.7"/>
<rect x="2.5" y="68.70" width="1.3" height="1.3" fill="#ffffff" opacity="0.9"/>
<rect x="4.5" y="68.85" width="3.6" height="0.9" fill="#ffffff" opacity="0.7"/>
<rect x="16.4" y="9.8" width="1.4" height="1.3" fill="#666" opacity="0.8"/>
<rect x="18.6" y="10" width="3.6" height="0.9" fill="#777" opacity="0.7"/>
<rect x="25.6" y="9.4" width="1.5" height="1.6" fill="#333"/>
<rect x="27.8" y="9.9" width="3" height="0.9" fill="#777" opacity="0.7"/>
<rect x="17.6" y="14.8" width="1.4" height="1.4" fill="#5aaef2"/>
<rect x="19.6" y="15" width="2.6" height="0.9" fill="#3d9cf0"/>
<rect x="19.2" y="17.6" width="6.4" height="1" fill="#8a7a5a" opacity="0.85"/>
<rect x="21" y="20.2" width="3.6" height="0.9" fill="#777" opacity="0.8"/>
<rect x="21" y="22.9" width="3.6" height="0.9" fill="#777" opacity="0.8"/>
<rect x="30" y="12.4" width="4.4" height="3" rx="0.5" fill="#3aa0f3"/>
<rect x="35.8" y="12.4" width="4.4" height="3" rx="0.5" fill="#fb5a1e"/>
<rect x="41.4" y="12.4" width="4.4" height="3" rx="0.5" fill="#3fb65f"/>
<rect x="118.5" y="13.4" width="11.5" height="0.9" fill="#999" opacity="0.7"/>
<rect x="133.8" y="12.3" width="4.6" height="2.8" rx="0.5" fill="#3aa0f3"/>
<rect x="29.4" y="17" width="108.2" height="3" fill="#eeeeee"/>
<rect x="39.400000000000006" y="18" width="2" height="1" fill="#777" opacity="0.8"/>
<rect x="53.2" y="18" width="2" height="1" fill="#777" opacity="0.8"/>
<rect x="70.2" y="18" width="2" height="1" fill="#777" opacity="0.8"/>
<rect x="87.2" y="18" width="2" height="1" fill="#777" opacity="0.8"/>
<rect x="103.7" y="18" width="2" height="1" fill="#777" opacity="0.8"/>
<rect x="124.7" y="18" width="2" height="1" fill="#777" opacity="0.8"/>
<rect x="39.6" y="23.10" width="1.4" height="1.4" fill="#3aa0f3"/>
<rect x="53.80" y="23.35" width="1.6" height="0.9" fill="#5aaef2" opacity="0.9"/>
<rect x="70.80" y="23.35" width="1.6" height="0.9" fill="#5aaef2" opacity="0.8"/>
<rect x="122.2" y="22.40" width="8.6" height="2.8" rx="0.5" fill="#3aa0f3"/>
<rect x="124" y="23.35" width="4.4" height="0.8" fill="#ffffff" opacity="0.6"/>
<rect x="29.4" y="25.80" width="108.2" height="0.25" fill="#eef1f5" opacity="0.45"/>
<rect x="39.6" y="27.27" width="1.4" height="1.4" fill="#3aa0f3"/>
<rect x="53.30" y="27.52" width="2.6" height="0.9" fill="#5aaef2" opacity="0.9"/>
<rect x="70.40" y="27.52" width="2.4" height="0.9" fill="#5aaef2" opacity="0.8"/>
<rect x="122.2" y="26.57" width="8.6" height="2.8" rx="0.5" fill="#3aa0f3"/>
<rect x="124" y="27.52" width="4.4" height="0.8" fill="#ffffff" opacity="0.6"/>
<rect x="29.4" y="29.97" width="108.2" height="0.25" fill="#eef1f5" opacity="0.45"/>
<rect x="39.6" y="31.44" width="1.4" height="1.4" fill="#3aa0f3"/>
<rect x="53.30" y="31.69" width="2.6" height="0.9" fill="#5aaef2" opacity="0.9"/>
<rect x="70.40" y="31.69" width="2.4" height="0.9" fill="#5aaef2" opacity="0.8"/>
<rect x="122.2" y="30.74" width="8.6" height="2.8" rx="0.5" fill="#3aa0f3"/>
<rect x="124" y="31.69" width="4.4" height="0.8" fill="#ffffff" opacity="0.6"/>
<rect x="29.4" y="34.14" width="108.2" height="0.25" fill="#eef1f5" opacity="0.45"/>
<rect x="39.6" y="35.61" width="1.4" height="1.4" fill="#3aa0f3"/>
<rect x="53.60" y="35.86" width="2" height="0.9" fill="#5aaef2" opacity="0.9"/>
<rect x="70.80" y="35.86" width="1.6" height="0.9" fill="#5aaef2" opacity="0.8"/>
<rect x="122.2" y="34.91" width="8.6" height="2.8" rx="0.5" fill="#3aa0f3"/>
<rect x="124" y="35.86" width="4.4" height="0.8" fill="#ffffff" opacity="0.6"/>
<rect x="29.4" y="38.31" width="108.2" height="0.25" fill="#eef1f5" opacity="0.45"/>
<rect x="39.6" y="39.78" width="1.4" height="1.4" fill="#3aa0f3"/>
<rect x="53.30" y="40.03" width="2.6" height="0.9" fill="#5aaef2" opacity="0.9"/>
<rect x="70.40" y="40.03" width="2.4" height="0.9" fill="#5aaef2" opacity="0.8"/>
<rect x="122.2" y="39.08" width="8.6" height="2.8" rx="0.5" fill="#3aa0f3"/>
<rect x="124" y="40.03" width="4.4" height="0.8" fill="#ffffff" opacity="0.6"/>
<rect x="29.4" y="42.48" width="108.2" height="0.25" fill="#eef1f5" opacity="0.45"/>
<rect x="39.6" y="43.95" width="1.4" height="1.4" fill="#3aa0f3"/>
<rect x="52.90" y="44.20" width="3.4" height="0.9" fill="#5aaef2" opacity="0.9"/>
<rect x="70.40" y="44.20" width="2.4" height="0.9" fill="#5aaef2" opacity="0.8"/>
<rect x="122.2" y="43.25" width="8.6" height="2.8" rx="0.5" fill="#3aa0f3"/>
<rect x="124" y="44.20" width="4.4" height="0.8" fill="#ffffff" opacity="0.6"/>
<rect x="29.4" y="46.65" width="108.2" height="0.25" fill="#eef1f5" opacity="0.45"/>
<rect x="39.6" y="48.12" width="1.4" height="1.4" fill="#3aa0f3"/>
<rect x="53.30" y="48.37" width="2.6" height="0.9" fill="#5aaef2" opacity="0.9"/>
<rect x="70.80" y="48.37" width="1.6" height="0.9" fill="#5aaef2" opacity="0.8"/>
<rect x="122.2" y="47.42" width="8.6" height="2.8" rx="0.5" fill="#3aa0f3"/>
<rect x="124" y="48.37" width="4.4" height="0.8" fill="#ffffff" opacity="0.6"/>
<rect x="29.4" y="50.82" width="108.2" height="0.25" fill="#eef1f5" opacity="0.45"/>
<rect x="39.6" y="52.29" width="1.4" height="1.4" fill="#3aa0f3"/>
<rect x="53.60" y="52.54" width="2" height="0.9" fill="#5aaef2" opacity="0.9"/>
<rect x="70.80" y="52.54" width="1.6" height="0.9" fill="#5aaef2" opacity="0.8"/>
<rect x="122.2" y="51.59" width="8.6" height="2.8" rx="0.5" fill="#3aa0f3"/>
<rect x="124" y="52.54" width="4.4" height="0.8" fill="#ffffff" opacity="0.6"/>
<rect x="29.4" y="54.99" width="108.2" height="0.25" fill="#eef1f5" opacity="0.45"/>
<rect x="39.6" y="56.46" width="1.4" height="1.4" fill="#f2c531"/>
<rect x="53.40" y="56.71" width="2.4" height="0.9" fill="#5aaef2" opacity="0.9"/>
<rect x="70.80" y="56.71" width="1.6" height="0.9" fill="#5aaef2" opacity="0.8"/>
<rect x="122.2" y="55.76" width="8.6" height="2.8" rx="0.5" fill="#3aa0f3"/>
<rect x="124" y="56.71" width="4.4" height="0.8" fill="#ffffff" opacity="0.6"/>
<rect x="29.4" y="59.16" width="108.2" height="0.25" fill="#eef1f5" opacity="0.45"/>
<rect x="39.6" y="60.63" width="1.4" height="1.4" fill="#3aa0f3"/>
<rect x="53.60" y="60.88" width="2" height="0.9" fill="#5aaef2" opacity="0.9"/>
<rect x="122.2" y="59.93" width="8.6" height="2.8" rx="0.5" fill="#3aa0f3"/>
<rect x="124" y="60.88" width="4.4" height="0.8" fill="#ffffff" opacity="0.6"/>
<rect x="29.4" y="63.33" width="108.2" height="0.25" fill="#eef1f5" opacity="0.45"/>
<rect x="86.4" y="33.7" width="5" height="1" fill="#555" opacity="0.85"/>
<rect x="102" y="58.7" width="6.4" height="1" fill="#777" opacity="0.8"/>
<circle cx="33.8" cy="99.3" r="1.3" fill="#2f9bf1"/>
<rect x="37.0" y="98.8" width="1.3" height="1" fill="#bbb" opacity="0.8"/>
<rect x="40.0" y="98.8" width="1.3" height="1" fill="#bbb" opacity="0.8"/>
<rect x="43.0" y="98.8" width="1.3" height="1" fill="#bbb" opacity="0.8"/>
<rect x="48.0" y="98.8" width="1.3" height="1" fill="#555" opacity="0.8"/>
<rect x="51.8" y="98.8" width="1.3" height="1" fill="#bbb" opacity="0.8"/>
<rect x="54.8" y="98.8" width="1.3" height="1" fill="#bbb" opacity="0.8"/>
<rect x="58.4" y="98.8" width="1.3" height="1" fill="#555" opacity="0.8"/>
</g>
<g transform="matrix(1,-0.179,0,1,470.1,53.45)">
<rect x="0" y="0" width="141" height="102.4" fill="#ffffff"/>
<rect x="14" y="102" width="15.4" height="3" fill="#ffffff" opacity="0.9"/>
<rect x="29.2" y="102.3" width="111.8" height="2.7" fill="#e3e8ef"/>
<rect x="0" y="6" width="14.6" height="99.2" fill="#37394c"/>
<rect x="0" y="6" width="14.6" height="4.6" fill="#44475b"/>
<rect x="8.6" y="7.8" width="1.6" height="1" fill="#8d90a3"/>
<rect x="0" y="0" width="141" height="6.6" fill="#1e98ef"/>
<text x="2.9" y="4.8" font-size="3.5" font-weight="700" fill="#ffffff" font-family="'Liberation Sans','Noto Sans CJK SC',sans-serif" textLength="13" lengthAdjust="spacingAndGlyphs">物联网平台</text>
<rect x="24.6" y="2.6" width="1.6" height="1.5" fill="#ffffff" opacity="0.95"/>
<rect x="30.05" y="1.1" width="2.3" height="2.3" rx="0.6" fill="#ffffff" opacity="0.78"/>
<rect x="29.30" y="4.3" width="3.8" height="0.8" fill="#ffffff" opacity="0.45"/>
<rect x="38.45" y="1.1" width="2.3" height="2.3" rx="0.6" fill="#ffffff" opacity="0.78"/>
<rect x="37.70" y="4.3" width="3.8" height="0.8" fill="#ffffff" opacity="0.45"/>
<rect x="47.05" y="1.1" width="2.3" height="2.3" rx="0.6" fill="#ffffff" opacity="0.78"/>
<rect x="46.30" y="4.3" width="3.8" height="0.8" fill="#ffffff" opacity="0.45"/>
<rect x="56.25" y="1.1" width="2.3" height="2.3" rx="0.6" fill="#ffffff" opacity="0.78"/>
<rect x="55.50" y="4.3" width="3.8" height="0.8" fill="#ffffff" opacity="0.45"/>
<rect x="64.45" y="1.1" width="2.3" height="2.3" rx="0.6" fill="#ffffff" opacity="0.78"/>
<rect x="63.70" y="4.3" width="3.8" height="0.8" fill="#ffffff" opacity="0.45"/>
<rect x="73.05" y="1.1" width="2.3" height="2.3" rx="0.6" fill="#ffffff" opacity="0.78"/>
<rect x="72.30" y="4.3" width="3.8" height="0.8" fill="#ffffff" opacity="0.45"/>
<rect x="81.45" y="1.1" width="2.3" height="2.3" rx="0.6" fill="#ffffff" opacity="0.78"/>
<rect x="80.70" y="4.3" width="3.8" height="0.8" fill="#ffffff" opacity="0.45"/>
<rect x="90.05" y="1.1" width="2.3" height="2.3" rx="0.6" fill="#ffffff" opacity="0.78"/>
<rect x="89.30" y="4.3" width="3.8" height="0.8" fill="#ffffff" opacity="0.45"/>
<rect x="98.65" y="1.1" width="2.3" height="2.3" rx="0.6" fill="#ffffff" opacity="0.78"/>
<rect x="97.90" y="4.3" width="3.8" height="0.8" fill="#ffffff" opacity="0.45"/>
<rect x="112" y="2.8" width="1.5" height="1.3" fill="#ffffff" opacity="0.9"/>
<path d="M126.4 2 l2.2 1.4 l-2.2 1.4z" fill="#ffffff"/>
<rect x="129.4" y="3" width="4" height="0.9" fill="#ffffff" opacity="0.5"/>
<rect x="135" y="2.6" width="1.2" height="1.6" fill="#ffffff" opacity="0.55"/>
<rect x="137.4" y="2.6" width="1.2" height="1.6" fill="#ffffff" opacity="0.55"/>
<rect x="2.5" y="12.80" width="1.3" height="1.3" fill="#ffffff" opacity="0.9"/>
<rect x="4.5" y="12.95" width="3.6" height="0.9" fill="#ffffff" opacity="0.7"/>
<rect x="2.5" y="17.10" width="1.3" height="1.3" fill="#ffffff" opacity="0.9"/>
<rect x="4.5" y="17.25" width="3.6" height="0.9" fill="#ffffff" opacity="0.7"/>
<rect x="0" y="20.0" width="14.6" height="4.3" fill="#1e98ef"/>
<rect x="2.5" y="21.40" width="1.3" height="1.3" fill="#ffffff" opacity="0.9"/>
<rect x="4.5" y="21.55" width="3.6" height="0.9" fill="#ffffff" opacity="0.7"/>
<rect x="2.5" y="25.70" width="1.3" height="1.3" fill="#ffffff" opacity="0.9"/>
<rect x="4.5" y="25.85" width="5.2" height="0.9" fill="#ffffff" opacity="0.7"/>
<rect x="2.5" y="30.00" width="1.3" height="1.3" fill="#ffffff" opacity="0.9"/>
<rect x="4.5" y="30.15" width="3.6" height="0.9" fill="#ffffff" opacity="0.7"/>
<rect x="2.5" y="34.30" width="1.3" height="1.3" fill="#ffffff" opacity="0.9"/>
<rect x="4.5" y="34.45" width="5.2" height="0.9" fill="#ffffff" opacity="0.7"/>
<rect x="2.5" y="38.60" width="1.3" height="1.3" fill="#ffffff" opacity="0.9"/>
<rect x="4.5" y="38.75" width="3.6" height="0.9" fill="#ffffff" opacity="0.7"/>
<rect x="2.5" y="42.90" width="1.3" height="1.3" fill="#ffffff" opacity="0.9"/>
<rect x="4.5" y="43.05" width="5.2" height="0.9" fill="#ffffff" opacity="0.7"/>
<rect x="2.5" y="47.20" width="1.3" height="1.3" fill="#ffffff" opacity="0.9"/>
<rect x="4.5" y="47.35" width="3.6" height="0.9" fill="#ffffff" opacity="0.7"/>
<rect x="2.5" y="51.50" width="1.3" height="1.3" fill="#ffffff" opacity="0.9"/>
<rect x="4.5" y="51.65" width="3.6" height="0.9" fill="#ffffff" opacity="0.7"/>
<rect x="2.5" y="55.80" width="1.3" height="1.3" fill="#ffffff" opacity="0.9"/>
<rect x="4.5" y="55.95" width="3.6" height="0.9" fill="#ffffff" opacity="0.7"/>
<rect x="2.5" y="60.10" width="1.3" height="1.3" fill="#ffffff" opacity="0.9"/>
<rect x="4.5" y="60.25" width="3.6" height="0.9" fill="#ffffff" opacity="0.7"/>
<rect x="2.5" y="64.40" width="1.3" height="1.3" fill="#ffffff" opacity="0.9"/>
<rect x="4.5" y="64.55" width="3.6" height="0.9" fill="#ffffff" opacity="0.7"/>
<rect x="2.5" y="68.70" width="1.3" height="1.3" fill="#ffffff" opacity="0.9"/>
<rect x="4.5" y="68.85" width="3.6" height="0.9" fill="#ffffff" opacity="0.7"/>
<rect x="16.4" y="9.8" width="1.4" height="1.3" fill="#666" opacity="0.8"/>
<rect x="18.6" y="10" width="3.6" height="0.9" fill="#777" opacity="0.7"/>
<rect x="25.6" y="9.4" width="1.5" height="1.6" fill="#333"/>
<rect x="27.8" y="9.9" width="3" height="0.9" fill="#777" opacity="0.7"/>
<rect x="17.6" y="14.8" width="1.4" height="1.4" fill="#5aaef2"/>
<rect x="19.6" y="15" width="2.6" height="0.9" fill="#3d9cf0"/>
<rect x="19.2" y="17.6" width="6.4" height="1" fill="#8a7a5a" opacity="0.85"/>
<rect x="21" y="20.2" width="3.6" height="0.9" fill="#777" opacity="0.8"/>
<rect x="21" y="22.9" width="3.6" height="0.9" fill="#777" opacity="0.8"/>
<rect x="30" y="12.4" width="4.4" height="3" rx="0.5" fill="#3aa0f3"/>
<rect x="35.8" y="12.4" width="4.4" height="3" rx="0.5" fill="#fb5a1e"/>
<rect x="41.4" y="12.4" width="4.4" height="3" rx="0.5" fill="#3fb65f"/>
<rect x="118.5" y="13.4" width="11.5" height="0.9" fill="#999" opacity="0.7"/>
<rect x="133.8" y="12.3" width="4.6" height="2.8" rx="0.5" fill="#3aa0f3"/>
<rect x="29.4" y="17" width="108.2" height="3" fill="#eeeeee"/>
<rect x="39.400000000000006" y="18" width="2" height="1" fill="#777" opacity="0.8"/>
<rect x="53.2" y="18" width="2" height="1" fill="#777" opacity="0.8"/>
<rect x="70.2" y="18" width="2" height="1" fill="#777" opacity="0.8"/>
<rect x="87.2" y="18" width="2" height="1" fill="#777" opacity="0.8"/>
<rect x="103.7" y="18" width="2" height="1" fill="#777" opacity="0.8"/>
<rect x="124.7" y="18" width="2" height="1" fill="#777" opacity="0.8"/>
<rect x="39.6" y="23.10" width="1.4" height="1.4" fill="#3aa0f3"/>
<rect x="53.80" y="23.35" width="1.6" height="0.9" fill="#5aaef2" opacity="0.9"/>
<rect x="70.80" y="23.35" width="1.6" height="0.9" fill="#5aaef2" opacity="0.8"/>
<rect x="122.2" y="22.40" width="8.6" height="2.8" rx="0.5" fill="#3aa0f3"/>
<rect x="124" y="23.35" width="4.4" height="0.8" fill="#ffffff" opacity="0.6"/>
<rect x="29.4" y="25.80" width="108.2" height="0.25" fill="#eef1f5" opacity="0.45"/>
<rect x="39.6" y="27.27" width="1.4" height="1.4" fill="#3aa0f3"/>
<rect x="53.30" y="27.52" width="2.6" height="0.9" fill="#5aaef2" opacity="0.9"/>
<rect x="70.40" y="27.52" width="2.4" height="0.9" fill="#5aaef2" opacity="0.8"/>
<rect x="122.2" y="26.57" width="8.6" height="2.8" rx="0.5" fill="#3aa0f3"/>
<rect x="124" y="27.52" width="4.4" height="0.8" fill="#ffffff" opacity="0.6"/>
<rect x="29.4" y="29.97" width="108.2" height="0.25" fill="#eef1f5" opacity="0.45"/>
<rect x="39.6" y="31.44" width="1.4" height="1.4" fill="#3aa0f3"/>
<rect x="53.30" y="31.69" width="2.6" height="0.9" fill="#5aaef2" opacity="0.9"/>
<rect x="70.40" y="31.69" width="2.4" height="0.9" fill="#5aaef2" opacity="0.8"/>
<rect x="122.2" y="30.74" width="8.6" height="2.8" rx="0.5" fill="#3aa0f3"/>
<rect x="124" y="31.69" width="4.4" height="0.8" fill="#ffffff" opacity="0.6"/>
<rect x="29.4" y="34.14" width="108.2" height="0.25" fill="#eef1f5" opacity="0.45"/>
<rect x="39.6" y="35.61" width="1.4" height="1.4" fill="#3aa0f3"/>
<rect x="53.60" y="35.86" width="2" height="0.9" fill="#5aaef2" opacity="0.9"/>
<rect x="70.80" y="35.86" width="1.6" height="0.9" fill="#5aaef2" opacity="0.8"/>
<rect x="122.2" y="34.91" width="8.6" height="2.8" rx="0.5" fill="#3aa0f3"/>
<rect x="124" y="35.86" width="4.4" height="0.8" fill="#ffffff" opacity="0.6"/>
<rect x="29.4" y="38.31" width="108.2" height="0.25" fill="#eef1f5" opacity="0.45"/>
<rect x="39.6" y="39.78" width="1.4" height="1.4" fill="#3aa0f3"/>
<rect x="53.30" y="40.03" width="2.6" height="0.9" fill="#5aaef2" opacity="0.9"/>
<rect x="70.40" y="40.03" width="2.4" height="0.9" fill="#5aaef2" opacity="0.8"/>
<rect x="122.2" y="39.08" width="8.6" height="2.8" rx="0.5" fill="#3aa0f3"/>
<rect x="124" y="40.03" width="4.4" height="0.8" fill="#ffffff" opacity="0.6"/>
<rect x="29.4" y="42.48" width="108.2" height="0.25" fill="#eef1f5" opacity="0.45"/>
<rect x="39.6" y="43.95" width="1.4" height="1.4" fill="#3aa0f3"/>
<rect x="52.90" y="44.20" width="3.4" height="0.9" fill="#5aaef2" opacity="0.9"/>
<rect x="70.40" y="44.20" width="2.4" height="0.9" fill="#5aaef2" opacity="0.8"/>
<rect x="122.2" y="43.25" width="8.6" height="2.8" rx="0.5" fill="#3aa0f3"/>
<rect x="124" y="44.20" width="4.4" height="0.8" fill="#ffffff" opacity="0.6"/>
<rect x="29.4" y="46.65" width="108.2" height="0.25" fill="#eef1f5" opacity="0.45"/>
<rect x="39.6" y="48.12" width="1.4" height="1.4" fill="#3aa0f3"/>
<rect x="53.30" y="48.37" width="2.6" height="0.9" fill="#5aaef2" opacity="0.9"/>
<rect x="70.80" y="48.37" width="1.6" height="0.9" fill="#5aaef2" opacity="0.8"/>
<rect x="122.2" y="47.42" width="8.6" height="2.8" rx="0.5" fill="#3aa0f3"/>
<rect x="124" y="48.37" width="4.4" height="0.8" fill="#ffffff" opacity="0.6"/>
<rect x="29.4" y="50.82" width="108.2" height="0.25" fill="#eef1f5" opacity="0.45"/>
<rect x="39.6" y="52.29" width="1.4" height="1.4" fill="#3aa0f3"/>
<rect x="53.60" y="52.54" width="2" height="0.9" fill="#5aaef2" opacity="0.9"/>
<rect x="70.80" y="52.54" width="1.6" height="0.9" fill="#5aaef2" opacity="0.8"/>
<rect x="122.2" y="51.59" width="8.6" height="2.8" rx="0.5" fill="#3aa0f3"/>
<rect x="124" y="52.54" width="4.4" height="0.8" fill="#ffffff" opacity="0.6"/>
<rect x="29.4" y="54.99" width="108.2" height="0.25" fill="#eef1f5" opacity="0.45"/>
<rect x="39.6" y="56.46" width="1.4" height="1.4" fill="#f2c531"/>
<rect x="53.40" y="56.71" width="2.4" height="0.9" fill="#5aaef2" opacity="0.9"/>
<rect x="70.80" y="56.71" width="1.6" height="0.9" fill="#5aaef2" opacity="0.8"/>
<rect x="122.2" y="55.76" width="8.6" height="2.8" rx="0.5" fill="#3aa0f3"/>
<rect x="124" y="56.71" width="4.4" height="0.8" fill="#ffffff" opacity="0.6"/>
<rect x="29.4" y="59.16" width="108.2" height="0.25" fill="#eef1f5" opacity="0.45"/>
<rect x="39.6" y="60.63" width="1.4" height="1.4" fill="#3aa0f3"/>
<rect x="53.60" y="60.88" width="2" height="0.9" fill="#5aaef2" opacity="0.9"/>
<rect x="122.2" y="59.93" width="8.6" height="2.8" rx="0.5" fill="#3aa0f3"/>
<rect x="124" y="60.88" width="4.4" height="0.8" fill="#ffffff" opacity="0.6"/>
<rect x="29.4" y="63.33" width="108.2" height="0.25" fill="#eef1f5" opacity="0.45"/>
<rect x="86.4" y="33.7" width="5" height="1" fill="#555" opacity="0.85"/>
<rect x="102" y="58.7" width="6.4" height="1" fill="#777" opacity="0.8"/>
<circle cx="33.8" cy="99.3" r="1.3" fill="#2f9bf1"/>
<rect x="37.0" y="98.8" width="1.3" height="1" fill="#bbb" opacity="0.8"/>
<rect x="40.0" y="98.8" width="1.3" height="1" fill="#bbb" opacity="0.8"/>
<rect x="43.0" y="98.8" width="1.3" height="1" fill="#bbb" opacity="0.8"/>
<rect x="48.0" y="98.8" width="1.3" height="1" fill="#555" opacity="0.8"/>
<rect x="51.8" y="98.8" width="1.3" height="1" fill="#bbb" opacity="0.8"/>
<rect x="54.8" y="98.8" width="1.3" height="1" fill="#bbb" opacity="0.8"/>
<rect x="58.4" y="98.8" width="1.3" height="1" fill="#555" opacity="0.8"/>
</g>
<g opacity="0.999"><text transform="matrix(0.803,-0.143,-0.06,1,197.3,97.3)" x="0" y="0" font-size="16.2" font-weight="500" fill="#151515" font-family="'Liberation Sans','Noto Sans CJK SC',sans-serif">支持第三方平台接入</text></g>
<g opacity="0.999"><text transform="matrix(0.803,-0.143,-0.06,1,370.3,64.3)" x="0" y="0" font-size="16.2" font-weight="500" fill="#151515" font-family="'Liberation Sans','Noto Sans CJK SC',sans-serif">兼容多种协议</text></g><path d="M472.1 187.6 C474 185 476 183.4 478 182.4 C484 178.6 491 176.6 497.4 176.4 C500 167 504.5 161.6 510.3 157.3 C516 153 523 150.2 530.4 149.6 C537 149 543 149.2 548.5 150.2 C554 151.2 558.6 152.6 562.6 154.2 C564.6 152.6 566.6 151.2 568.6 150.2 C576 147.8 584 146.8 590.7 144.2 C594.4 141.6 596.6 138.4 598.7 135.2 C602 130.6 605.6 127 610 124.1 C613 121.8 616.4 119.6 620 118.1 C625.4 116.2 631 116 636.1 117.1 C643 118.6 649.2 121.4 654.2 125.1 C660.6 129.6 666 134.6 670.3 140.4 C672.2 139.2 674.2 138.2 676.3 137.6 C682 135.8 688.4 135.4 694.4 136.2 C700 137.2 705.6 139.2 710.5 142.2 C717 146 722.4 151.2 726.6 157.9 C730.6 158.2 734.8 159 738.6 160.3 C745 163 750.4 167.4 754.7 173.3 C757.6 177 759.6 181 760.8 185.4 C763 191 764.2 197.6 763.8 204.1 C763.4 211.4 761.8 218.2 758.7 224.2 C756.2 228.8 752.8 232.4 748.7 235.3 C743.2 238.8 737 241 730.6 242.3 C722.6 244.4 714.6 246 706.5 247.3 C702.6 248 699.4 248.8 696.4 249.3 L546.5 245.3 C541 245.4 535.6 245.2 530.4 244.7 C525.4 243.8 520.6 242.4 516.3 240.3 C512.8 238.2 509.8 235.6 507.3 232.7 C503.2 233.6 498.8 234 494.2 233.9 C489.2 233.2 484.4 231.6 480.2 229.2 C475.8 226.4 472.4 222.6 470.1 218.2 C467.6 213 466.6 207.6 467.1 202.1 C467.6 196.8 469.2 191.8 472.1 187.6 Z" transform="translate(3.5,4.5)" fill="#7c7c7c" opacity="0.6" filter="url(#b2)"/>
<path d="M472.1 187.6 C474 185 476 183.4 478 182.4 C484 178.6 491 176.6 497.4 176.4 C500 167 504.5 161.6 510.3 157.3 C516 153 523 150.2 530.4 149.6 C537 149 543 149.2 548.5 150.2 C554 151.2 558.6 152.6 562.6 154.2 C564.6 152.6 566.6 151.2 568.6 150.2 C576 147.8 584 146.8 590.7 144.2 C594.4 141.6 596.6 138.4 598.7 135.2 C602 130.6 605.6 127 610 124.1 C613 121.8 616.4 119.6 620 118.1 C625.4 116.2 631 116 636.1 117.1 C643 118.6 649.2 121.4 654.2 125.1 C660.6 129.6 666 134.6 670.3 140.4 C672.2 139.2 674.2 138.2 676.3 137.6 C682 135.8 688.4 135.4 694.4 136.2 C700 137.2 705.6 139.2 710.5 142.2 C717 146 722.4 151.2 726.6 157.9 C730.6 158.2 734.8 159 738.6 160.3 C745 163 750.4 167.4 754.7 173.3 C757.6 177 759.6 181 760.8 185.4 C763 191 764.2 197.6 763.8 204.1 C763.4 211.4 761.8 218.2 758.7 224.2 C756.2 228.8 752.8 232.4 748.7 235.3 C743.2 238.8 737 241 730.6 242.3 C722.6 244.4 714.6 246 706.5 247.3 C702.6 248 699.4 248.8 696.4 249.3 L546.5 245.3 C541 245.4 535.6 245.2 530.4 244.7 C525.4 243.8 520.6 242.4 516.3 240.3 C512.8 238.2 509.8 235.6 507.3 232.7 C503.2 233.6 498.8 234 494.2 233.9 C489.2 233.2 484.4 231.6 480.2 229.2 C475.8 226.4 472.4 222.6 470.1 218.2 C467.6 213 466.6 207.6 467.1 202.1 C467.6 196.8 469.2 191.8 472.1 187.6 Z" fill="#ffffff" stroke="#a2c0d2" stroke-width="1" stroke-linejoin="round"/>
<path transform="translate(522.0,191.2) rotate(-11)" d="M0 -2.60 C-0.80 -7.01 -3.36 -9.95 -3.20 -14.36 C-3.04 -16.86 0.32 -17.65 1.92 -16.57 C3.68 -14.36 1.60 -7.01 0 -2.60Z" fill="#e0101e"/>
<path transform="translate(522.0,191.2) rotate(11)" d="M0 -2.60 C0.80 -7.01 3.36 -9.95 3.20 -14.36 C3.04 -16.86 -0.32 -17.65 -1.92 -16.57 C-3.68 -14.36 -1.60 -7.01 0 -2.60Z" fill="#e0101e"/>
<path transform="translate(522.0,191.2) rotate(-39)" d="M0 -2.60 C-0.78 -6.47 -3.26 -9.05 -3.10 -12.92 C-2.94 -15.11 0.31 -15.81 1.86 -14.85 C3.56 -12.92 1.55 -6.47 0 -2.60Z" fill="#e0101e"/>
<path transform="translate(522.0,191.2) rotate(39)" d="M0 -2.60 C0.78 -6.47 3.26 -9.05 3.10 -12.92 C2.94 -15.11 -0.31 -15.81 -1.86 -14.85 C-3.56 -12.92 -1.55 -6.47 0 -2.60Z" fill="#e0101e"/>
<path transform="translate(522.0,191.2) rotate(-66)" d="M0 -2.60 C-0.68 -5.87 -2.84 -8.05 -2.70 -11.32 C-2.56 -13.17 0.27 -13.77 1.62 -12.96 C3.10 -11.32 1.35 -5.87 0 -2.60Z" fill="#e0101e"/>
<path transform="translate(522.0,191.2) rotate(66)" d="M0 -2.60 C0.68 -5.87 2.84 -8.05 2.70 -11.32 C2.56 -13.17 -0.27 -13.77 -1.62 -12.96 C-3.10 -11.32 -1.35 -5.87 0 -2.60Z" fill="#e0101e"/>
<path transform="translate(522.0,191.2) rotate(-97)" d="M0 -2.60 C-0.53 -4.94 -2.21 -6.50 -2.10 -8.84 C-1.99 -10.17 0.21 -10.61 1.26 -10.01 C2.42 -8.84 1.05 -4.94 0 -2.60Z" fill="#e0101e"/>
<path transform="translate(522.0,191.2) rotate(97)" d="M0 -2.60 C0.53 -4.94 2.21 -6.50 2.10 -8.84 C1.99 -10.17 -0.21 -10.61 -1.26 -10.01 C-2.42 -8.84 -1.05 -4.94 0 -2.60Z" fill="#e0101e"/>
<text x="536.2" y="188.4" font-size="11.4" font-weight="500" fill="#3b4452" font-family="'Liberation Sans','Noto Sans CJK SC',sans-serif" textLength="33.6" lengthAdjust="spacingAndGlyphs">华为云</text>
<rect x="600.8" y="153.2" width="6.4" height="6.2" fill="#f1511b"/>
<rect x="608" y="153.2" width="6.4" height="6.2" fill="#80cc28"/>
<rect x="600.8" y="160.1" width="6.4" height="6.2" fill="#00adef"/>
<rect x="608" y="160.1" width="6.4" height="6.2" fill="#fbbc09"/>
<text x="617.8" y="164.4" font-size="11.2" fill="#606060" stroke="#606060" stroke-width="0.15" font-family="'Liberation Sans','Noto Sans CJK SC',sans-serif" textLength="46.4" lengthAdjust="spacingAndGlyphs">Microsoft</text>
<path d="M610.4 177 H604.4 Q598.6 177 598.6 182.8 V189.4 Q598.6 195.2 604.4 195.2 H610.4 V191.6 H604.8 Q602.4 191.6 602.4 189.2 V183 Q602.4 180.6 604.8 180.6 H610.4 Z" fill="#0b0b0b"/>
<path d="M615 177 H621 Q626.8 177 626.8 182.8 V189.4 Q626.8 195.2 621 195.2 H615 V191.6 H620.6 Q623 191.6 623 189.2 V183 Q623 180.6 620.6 180.6 H615 Z" fill="#0b0b0b"/>
<rect x="609.6" y="185.4" width="6.2" height="1.5" fill="#0b0b0b"/>
<text x="630.8" y="187.4" font-size="9.8" font-weight="900" fill="#141414" font-family="'Liberation Sans','Noto Sans CJK SC',sans-serif" textLength="28.6" lengthAdjust="spacingAndGlyphs">阿里云</text>
<text x="631" y="194.2" font-size="6.2" fill="#222222" stroke="#222222" stroke-width="0.15" font-family="'Liberation Sans','Noto Sans CJK SC',sans-serif" textLength="28.8" lengthAdjust="spacingAndGlyphs">aliyun.com</text>
<text x="686.4" y="190.6" font-size="11.2" font-weight="700" fill="#0b827e" font-family="'Liberation Sans','Noto Sans CJK SC',sans-serif" textLength="52.8" lengthAdjust="spacingAndGlyphs">SIEMENS</text>
<text x="503" y="223.6" font-size="15.6" font-weight="700" fill="#111111" font-family="'Liberation Sans','Noto Sans CJK SC',sans-serif" textLength="55.6" lengthAdjust="spacingAndGlyphs">amazon</text>
<path d="M510.8 224.2 Q525 231.6 539.6 225" fill="none" stroke="#f7941d" stroke-width="1.9" stroke-linecap="round"/>
<path d="M536.4 223.6 L540.8 223.8 L539.4 228" fill="none" stroke="#f7941d" stroke-width="1.2" stroke-linecap="round" stroke-linejoin="round"/>
<path d="M644.6 227.6 C639 223 644 214.4 653 212.4 C660.6 210.8 666 214.6 663.6 220.6 C661.4 226.2 653.6 230.6 646.6 229.2 C652.8 229 659.4 225.4 661.2 220.4 C662.8 216 658.6 213.6 653.2 214.6 C646.6 215.8 641.4 222 644.6 227.6 Z" fill="#2db32d" stroke="#2db32d" stroke-width="0.7" stroke-linejoin="round"/>
<text transform="translate(607.8,216.6) skewX(-16)" x="0" y="0" font-size="8.6" font-weight="900" fill="#1a2fb0" stroke="#1a2fb0" stroke-width="0.25" font-family="'Liberation Sans','Noto Sans CJK SC',sans-serif" textLength="36" lengthAdjust="spacingAndGlyphs">力控科技</text>
<text transform="translate(588,226.4) skewX(-16)" x="0" y="0" font-size="10.4" font-weight="700" fill="#17279c" stroke="#17279c" stroke-width="0.45" font-family="'Liberation Sans','Noto Sans CJK SC',sans-serif" textLength="75" lengthAdjust="spacingAndGlyphs">FORCECON</text>
<text transform="translate(691.6,223.2) skewX(-8)" x="0" y="0" font-size="13.4" font-weight="900" stroke="#111" stroke-width="0.35" fill="#111111" font-family="'Liberation Sans','Noto Sans CJK SC',sans-serif" textLength="43.4" lengthAdjust="spacingAndGlyphs">组态王</text><path d="M425.0 373.2 C427.8 373.9 436.2 375.9 442.0 377.6 C447.8 379.3 454.0 381.5 460.0 383.4 C466.0 385.3 472.3 387.4 478.0 388.8 C483.7 390.2 488.7 391.4 494.0 391.8 C499.3 392.2 505.1 391.9 510.0 391.2 C515.0 390.5 519.4 389.2 523.7 387.4 C528.0 385.6 532.1 383.0 536.0 380.4 C539.9 377.8 545.2 373.4 547.0 372.0" fill="none" stroke="url(#cable2G)" stroke-width="2"/>
<path d="M301.5 344.6 C303.8 345.6 309.8 348.5 315.0 350.4 C320.2 352.3 326.2 354.2 332.5 356.1 C338.8 358.0 345.9 359.8 353.0 361.6 C360.1 363.4 367.8 365.3 375.0 366.7 C382.2 368.1 388.9 369.3 396.0 370.2 C403.1 371.1 411.0 371.6 417.5 371.8 C424.0 372.0 429.3 371.7 435.0 371.2 C440.7 370.7 446.2 369.9 451.5 368.9 C456.8 367.9 462.1 366.4 467.0 365.0 C471.9 363.6 476.7 361.7 481.2 360.4 C485.7 359.1 489.8 357.8 494.0 357.0 C498.2 356.2 502.7 355.8 506.7 355.7 C510.7 355.6 514.5 355.7 518.0 356.2 C521.5 356.7 524.7 357.5 528.0 358.8 C531.3 360.1 534.5 362.0 538.0 364.0 C541.5 366.0 545.5 368.8 549.2 371.0 C552.9 373.2 556.5 375.4 560.0 377.2 C563.5 379.0 567.3 380.5 570.5 381.6 C573.7 382.7 576.2 383.3 579.0 383.6 C581.8 383.9 584.9 383.9 587.5 383.5 C590.1 383.1 592.3 382.2 594.4 381.2 C596.5 380.1 598.3 378.8 600.2 377.2 C602.1 375.6 604.2 373.7 606.0 371.8 C607.8 369.9 610.1 366.9 610.9 365.9" fill="none" stroke="url(#cableG)" stroke-width="2.1" stroke-linecap="round"/>
<polygon points="222,361 260,368 307,343 313,347.5 263,374.5 224,367.5" fill="#8c8c8c" opacity="0.7" filter="url(#b2)"/>
<polygon points="220.6,360 259.6,367 307,342 309.5,344.6 260.4,370.6 221.6,363.6" fill="#b9b9b9" opacity="0.9" filter="url(#b1)"/>
<polygon points="259.3,163.6 306.8,179.6 306.8,341.8 259.3,366.9" fill="url(#sideG)"/>
<polygon points="220,166.6 259.6,163.6 259.6,366.9 220,359.7" fill="url(#frontG)"/>
<polygon points="259.6,163.6 262.6,164.6 262.6,365.4 259.6,366.9" fill="#3a3c40" opacity="0.55"/>
<polygon points="220,166.6 259.6,163.6 306.8,179.6 306.8,180.6 259.6,164.8 220,167.8" fill="#505356" opacity="0.6"/>
<polygon points="275,214.7 299.4,218.6 299.4,304.4 275,311.7" fill="#2a2c2f" stroke="#17181a" stroke-width="0.8"/>
<polygon points="275.6,215.8 286.6,217.4 286.6,307.4 275.6,310.6" fill="#303236" opacity="0.7"/>
<path d="M287 216.4 L296.6 217.6 Q298.9 218 298.9 220.2 L298.9 268.4 L289.4 263.6 Q287 262.2 287 259.6 Z" fill="#2b72e2"/>
<path d="M293.2 231 l3.2 0.5 l-1.4 9 l-3.2 -0.5 z" fill="#10245e" opacity="0.85"/>
<rect x="290.2" y="224" width="1" height="1.4" fill="#10245e" opacity="0.7"/>
<rect x="294.4" y="243" width="1" height="14" fill="#17367e" opacity="0.55"/>
<rect x="296.4" y="250" width="0.8" height="8" fill="#17367e" opacity="0.45"/>
<polygon points="298.9,249 303.2,249.8 303.2,268.6 298.9,268.4" fill="#dcdcdc"/>
<rect x="300.4" y="254" width="1" height="1" fill="#555"/><rect x="300.4" y="262" width="1" height="1" fill="#555"/>
<polygon points="277.6,227.2 285.4,228.2 285.4,245.4 277.6,244.6" fill="#c9c9c9"/>
<rect x="278.8" y="229.6" width="5.4" height="1.2" fill="#666" opacity="0.8"/>
<rect x="279" y="232.2" width="5" height="5" fill="#4a4a4a" opacity="0.85"/>
<rect x="280.2" y="233.4" width="2.6" height="2.6" fill="#d6d6d6" opacity="0.9"/>
<rect x="278.8" y="238.8" width="5.4" height="1" fill="#666" opacity="0.7"/>
<rect x="278.8" y="241" width="5.4" height="2.4" fill="#777" opacity="0.7"/>
<rect x="276.8" y="263.6" width="8.4" height="1" fill="#9a9a9a" opacity="0.28"/>
<rect x="277.6" y="266" width="7" height="3.6" fill="#9a9a9a" opacity="0.18"/>
<rect x="277" y="271.4" width="8" height="1" fill="#9a9a9a" opacity="0.25"/>
<rect x="277" y="273.6" width="8.2" height="5.4" fill="#9a9a9a" opacity="0.17"/>
<rect x="276.6" y="284.4" width="8.6" height="1" fill="#9a9a9a" opacity="0.25"/>
<rect x="277" y="287" width="8" height="5.6" fill="#9a9a9a" opacity="0.17"/>
<rect x="277.4" y="294.4" width="7.4" height="4.6" fill="#9a9a9a" opacity="0.17"/>
<rect x="277" y="300.4" width="8" height="1" fill="#9a9a9a" opacity="0.22"/>
<rect x="290" y="281" width="3.6" height="1" fill="#9a9a9a" opacity="0.28"/>
<rect x="290.4" y="284" width="3.6" height="8" fill="#9a9a9a" opacity="0.21"/>
<rect x="291" y="293.4" width="3.4" height="6.6" fill="#9a9a9a" opacity="0.21"/>
<circle cx="274.4" cy="172.6" r="1.3" fill="#1b1c1e"/><circle cx="274.1" cy="172.3" r="0.6" fill="#55585b"/>
<circle cx="273.4" cy="352.4" r="1.1" fill="#0a0a0a"/>
<path d="M223.9 174 Q223.9 171.7 226.2 171.5 L251.6 170 Q254 169.9 254 172.2 L254 358.6 Q254 361.2 251.6 360.8 L226.2 357.2 Q223.9 356.8 223.9 354.4 Z" fill="url(#blueG)"/>
<path d="M223.9 174 Q223.9 171.7 226.2 171.5 L251.6 170 Q254 169.9 254 172.2 L254 358.6 Q254 361.2 251.6 360.8 L226.2 357.2 Q223.9 356.8 223.9 354.4 Z" fill="none" stroke="#123a99" stroke-width="0.5" opacity="0.7"/>
<ellipse cx="231.1" cy="189.20000000000002" rx="4.6" ry="3.9" fill="#6e0a12"/><ellipse cx="230.2" cy="188.9" rx="4.7" ry="3.9" fill="url(#redG)"/><ellipse cx="228.79999999999998" cy="188.70000000000002" rx="2.4" ry="2.8" fill="#d83a44" opacity="0.45"/><ellipse cx="231.79999999999998" cy="188.9" rx="1.6" ry="2.6" fill="#8a0e18" opacity="0.5"/>
<ellipse cx="246.9" cy="188.4" rx="4.6" ry="3.9" fill="#6e0a12"/><ellipse cx="246" cy="188.1" rx="4.7" ry="3.9" fill="url(#redG)"/><ellipse cx="244.6" cy="187.9" rx="2.4" ry="2.8" fill="#d83a44" opacity="0.45"/><ellipse cx="247.6" cy="188.1" rx="1.6" ry="2.6" fill="#8a0e18" opacity="0.5"/>
<ellipse cx="231.1" cy="223.10000000000002" rx="4.6" ry="3.9" fill="#6e0a12"/><ellipse cx="230.2" cy="222.8" rx="4.7" ry="3.9" fill="url(#redG)"/><ellipse cx="228.79999999999998" cy="222.60000000000002" rx="2.4" ry="2.8" fill="#d83a44" opacity="0.45"/><ellipse cx="231.79999999999998" cy="222.8" rx="1.6" ry="2.6" fill="#8a0e18" opacity="0.5"/>
<ellipse cx="246.9" cy="222.4" rx="4.6" ry="3.9" fill="#6e0a12"/><ellipse cx="246" cy="222.1" rx="4.7" ry="3.9" fill="url(#redG)"/><ellipse cx="244.6" cy="221.9" rx="2.4" ry="2.8" fill="#d83a44" opacity="0.45"/><ellipse cx="247.6" cy="222.1" rx="1.6" ry="2.6" fill="#8a0e18" opacity="0.5"/>
<ellipse cx="231.1" cy="246.70000000000002" rx="4.6" ry="3.9" fill="#6e0a12"/><ellipse cx="230.2" cy="246.4" rx="4.7" ry="3.9" fill="url(#redG)"/><ellipse cx="228.79999999999998" cy="246.20000000000002" rx="2.4" ry="2.8" fill="#d83a44" opacity="0.45"/><ellipse cx="231.79999999999998" cy="246.4" rx="1.6" ry="2.6" fill="#8a0e18" opacity="0.5"/>
<ellipse cx="246.9" cy="246.70000000000002" rx="4.6" ry="3.9" fill="#6e0a12"/><ellipse cx="246" cy="246.4" rx="4.7" ry="3.9" fill="url(#redG)"/><ellipse cx="244.6" cy="246.20000000000002" rx="2.4" ry="2.8" fill="#d83a44" opacity="0.45"/><ellipse cx="247.6" cy="246.4" rx="1.6" ry="2.6" fill="#8a0e18" opacity="0.5"/>
<circle cx="230.1" cy="198.51" r="1.15" fill="#a8612c"/>
<rect x="228.9" y="195.31" width="2.4" height="0.7" fill="#9db6ee" opacity="0.4"/>
<circle cx="234.3" cy="198.36" r="1.15" fill="#a8612c"/>
<rect x="233.10000000000002" y="195.16" width="2.4" height="0.7" fill="#9db6ee" opacity="0.4"/>
<circle cx="238.4" cy="198.22" r="1.15" fill="#a8612c"/>
<rect x="237.20000000000002" y="195.02" width="2.4" height="0.7" fill="#9db6ee" opacity="0.4"/>
<circle cx="242.6" cy="198.07" r="1.15" fill="#a8612c"/>
<rect x="241.4" y="194.87" width="2.4" height="0.7" fill="#9db6ee" opacity="0.4"/>
<circle cx="230.1" cy="208.22" r="1.15" fill="#a8612c"/>
<rect x="228.9" y="205.02" width="2.4" height="0.7" fill="#9db6ee" opacity="0.4"/>
<circle cx="234.3" cy="208.13" r="1.15" fill="#a8612c"/>
<rect x="233.10000000000002" y="204.93" width="2.4" height="0.7" fill="#9db6ee" opacity="0.4"/>
<circle cx="238.4" cy="208.05" r="1.15" fill="#a8612c"/>
<rect x="237.20000000000002" y="204.85" width="2.4" height="0.7" fill="#9db6ee" opacity="0.4"/>
<circle cx="242.6" cy="207.97" r="1.15" fill="#a8612c"/>
<rect x="241.4" y="204.77" width="2.4" height="0.7" fill="#9db6ee" opacity="0.4"/>
<circle cx="229.5" cy="214.8" r="1.5" fill="#0e1426"/><circle cx="229.5" cy="214.8" r="0.6" fill="#3a3f55"/>
<rect x="227.6" y="210.6" width="5.6" height="0.9" fill="#c9d6f6" opacity="0.8"/>
<path d="M235.2 213.4 L243.6 210.4 L243.6 213.2 Z" fill="#e8eefc" opacity="0.9"/>
<rect x="225.6" y="283.6" width="1" height="2.4" fill="#8fb0f0" opacity="0.6"/>
<rect x="225.6" y="302.6" width="1" height="2.4" fill="#8fb0f0" opacity="0.6"/>
<rect x="225.6" y="317" width="1" height="2.4" fill="#8fb0f0" opacity="0.6"/>
<rect x="225.6" y="331.4" width="1" height="2.4" fill="#8fb0f0" opacity="0.6"/>
<rect x="225.6" y="345.6" width="1" height="2.4" fill="#8fb0f0" opacity="0.6"/>
<g transform="matrix(1,0.03,0,1,0,-6.936)"><rect x="227.9" y="252.4" width="6.6" height="21.48" fill="#2c5a26"/><rect x="229.22" y="252.90" width="3.04" height="2.58" fill="#0c150c"/><rect x="232.52" y="253.10" width="1.72" height="2.18" fill="#5c9c38"/><rect x="229.22" y="256.48" width="3.04" height="2.58" fill="#0c150c"/><rect x="232.52" y="256.68" width="1.72" height="2.18" fill="#5c9c38"/><rect x="229.22" y="260.06" width="3.04" height="2.58" fill="#0c150c"/><rect x="232.52" y="260.26" width="1.72" height="2.18" fill="#5c9c38"/><rect x="229.22" y="263.64" width="3.04" height="2.58" fill="#0c150c"/><rect x="232.52" y="263.84" width="1.72" height="2.18" fill="#5c9c38"/><rect x="229.22" y="267.22" width="3.04" height="2.58" fill="#0c150c"/><rect x="232.52" y="267.42" width="1.72" height="2.18" fill="#5c9c38"/><rect x="229.22" y="270.80" width="3.04" height="2.58" fill="#0c150c"/><rect x="232.52" y="271.00" width="1.72" height="2.18" fill="#5c9c38"/><rect x="235.70" y="253.69" width="1.5" height="0.9" fill="#8fb0f0" opacity="0.55"/><rect x="235.70" y="257.27" width="1.5" height="0.9" fill="#8fb0f0" opacity="0.55"/><rect x="235.70" y="260.85" width="1.5" height="0.9" fill="#8fb0f0" opacity="0.55"/><rect x="235.70" y="264.43" width="1.5" height="0.9" fill="#8fb0f0" opacity="0.55"/><rect x="235.70" y="268.01" width="1.5" height="0.9" fill="#8fb0f0" opacity="0.55"/><rect x="235.70" y="271.59" width="1.5" height="0.9" fill="#8fb0f0" opacity="0.55"/></g>
<g transform="matrix(1,0.03,0,1,0,-7.392)"><rect x="243.3" y="253.0" width="6.2" height="21.72" fill="#2c5a26"/><rect x="244.54" y="253.50" width="2.85" height="2.62" fill="#0c150c"/><rect x="247.64" y="253.70" width="1.61" height="2.22" fill="#5c9c38"/><rect x="244.54" y="257.12" width="2.85" height="2.62" fill="#0c150c"/><rect x="247.64" y="257.32" width="1.61" height="2.22" fill="#5c9c38"/><rect x="244.54" y="260.74" width="2.85" height="2.62" fill="#0c150c"/><rect x="247.64" y="260.94" width="1.61" height="2.22" fill="#5c9c38"/><rect x="244.54" y="264.36" width="2.85" height="2.62" fill="#0c150c"/><rect x="247.64" y="264.56" width="1.61" height="2.22" fill="#5c9c38"/><rect x="244.54" y="267.98" width="2.85" height="2.62" fill="#0c150c"/><rect x="247.64" y="268.18" width="1.61" height="2.22" fill="#5c9c38"/><rect x="244.54" y="271.60" width="2.85" height="2.62" fill="#0c150c"/><rect x="247.64" y="271.80" width="1.61" height="2.22" fill="#5c9c38"/><rect x="250.70" y="254.31" width="1.5" height="0.9" fill="#8fb0f0" opacity="0.55"/><rect x="250.70" y="257.93" width="1.5" height="0.9" fill="#8fb0f0" opacity="0.55"/><rect x="250.70" y="261.55" width="1.5" height="0.9" fill="#8fb0f0" opacity="0.55"/><rect x="250.70" y="265.17" width="1.5" height="0.9" fill="#8fb0f0" opacity="0.55"/><rect x="250.70" y="268.79" width="1.5" height="0.9" fill="#8fb0f0" opacity="0.55"/><rect x="250.70" y="272.41" width="1.5" height="0.9" fill="#8fb0f0" opacity="0.55"/></g>
<g transform="matrix(1,0.07,0,1,0,-17.248)"><rect x="243.3" y="277.6" width="6.2" height="35.50" fill="#2c5a26"/><rect x="244.54" y="278.10" width="2.85" height="2.55" fill="#0c150c"/><rect x="247.64" y="278.30" width="1.61" height="2.15" fill="#5c9c38"/><rect x="244.54" y="281.65" width="2.85" height="2.55" fill="#0c150c"/><rect x="247.64" y="281.85" width="1.61" height="2.15" fill="#5c9c38"/><rect x="244.54" y="285.20" width="2.85" height="2.55" fill="#0c150c"/><rect x="247.64" y="285.40" width="1.61" height="2.15" fill="#5c9c38"/><rect x="244.54" y="288.75" width="2.85" height="2.55" fill="#0c150c"/><rect x="247.64" y="288.95" width="1.61" height="2.15" fill="#5c9c38"/><rect x="244.54" y="292.30" width="2.85" height="2.55" fill="#0c150c"/><rect x="247.64" y="292.50" width="1.61" height="2.15" fill="#5c9c38"/><rect x="244.54" y="295.85" width="2.85" height="2.55" fill="#0c150c"/><rect x="247.64" y="296.05" width="1.61" height="2.15" fill="#5c9c38"/><rect x="244.54" y="299.40" width="2.85" height="2.55" fill="#0c150c"/><rect x="247.64" y="299.60" width="1.61" height="2.15" fill="#5c9c38"/><rect x="244.54" y="302.95" width="2.85" height="2.55" fill="#0c150c"/><rect x="247.64" y="303.15" width="1.61" height="2.15" fill="#5c9c38"/><rect x="244.54" y="306.50" width="2.85" height="2.55" fill="#0c150c"/><rect x="247.64" y="306.70" width="1.61" height="2.15" fill="#5c9c38"/><rect x="244.54" y="310.05" width="2.85" height="2.55" fill="#0c150c"/><rect x="247.64" y="310.25" width="1.61" height="2.15" fill="#5c9c38"/><rect x="250.70" y="278.88" width="1.5" height="0.9" fill="#8fb0f0" opacity="0.55"/><rect x="250.70" y="282.43" width="1.5" height="0.9" fill="#8fb0f0" opacity="0.55"/><rect x="250.70" y="285.98" width="1.5" height="0.9" fill="#8fb0f0" opacity="0.55"/><rect x="250.70" y="289.52" width="1.5" height="0.9" fill="#8fb0f0" opacity="0.55"/><rect x="250.70" y="293.07" width="1.5" height="0.9" fill="#8fb0f0" opacity="0.55"/><rect x="250.70" y="296.62" width="1.5" height="0.9" fill="#8fb0f0" opacity="0.55"/><rect x="250.70" y="300.18" width="1.5" height="0.9" fill="#8fb0f0" opacity="0.55"/><rect x="250.70" y="303.73" width="1.5" height="0.9" fill="#8fb0f0" opacity="0.55"/><rect x="250.70" y="307.27" width="1.5" height="0.9" fill="#8fb0f0" opacity="0.55"/><rect x="250.70" y="310.82" width="1.5" height="0.9" fill="#8fb0f0" opacity="0.55"/></g>
<g transform="matrix(1,0.06,0,1,0,-14.010)"><rect x="227.9" y="276.9" width="11.2" height="15.4" fill="#d9caa4"/><rect x="229.0" y="278.09999999999997" width="9.0" height="12.8" fill="#101012"/><rect x="229.0" y="288.69999999999993" width="2.2" height="2.2" fill="#d9caa4"/><rect x="235.79999999999998" y="288.69999999999993" width="2.2" height="2.2" fill="#d9caa4"/><rect x="229.9" y="279.09999999999997" width="7.199999999999999" height="1" fill="#2a2a2e"/></g>
<g transform="matrix(1,0.08,0,1,0,-18.680)"><rect x="227.9" y="295.9" width="11.2" height="14.35" fill="#d9caa4"/><rect x="229.0" y="297.09999999999997" width="9.0" height="11.75" fill="#101012"/><rect x="229.0" y="306.65" width="2.2" height="2.2" fill="#d9caa4"/><rect x="235.79999999999998" y="306.65" width="2.2" height="2.2" fill="#d9caa4"/><rect x="229.9" y="298.09999999999997" width="7.199999999999999" height="1" fill="#2a2a2e"/></g>
<g transform="matrix(1,0.1,0,1,0,-23.350)"><rect x="227.9" y="310.25" width="11.2" height="14.35" fill="#d9caa4"/><rect x="229.0" y="311.45" width="9.0" height="11.75" fill="#101012"/><rect x="229.0" y="321.0" width="2.2" height="2.2" fill="#d9caa4"/><rect x="235.79999999999998" y="321.0" width="2.2" height="2.2" fill="#d9caa4"/><rect x="229.9" y="312.45" width="7.199999999999999" height="1" fill="#2a2a2e"/></g>
<g transform="matrix(1,0.12,0,1,0,-28.020)"><rect x="227.9" y="324.59999999999997" width="11.2" height="14.35" fill="#d9caa4"/><rect x="229.0" y="325.79999999999995" width="9.0" height="11.75" fill="#101012"/><rect x="229.0" y="335.34999999999997" width="2.2" height="2.2" fill="#d9caa4"/><rect x="235.79999999999998" y="335.34999999999997" width="2.2" height="2.2" fill="#d9caa4"/><rect x="229.9" y="326.79999999999995" width="7.199999999999999" height="1" fill="#2a2a2e"/></g>
<g transform="matrix(1,0.14,0,1,0,-32.690)"><rect x="227.9" y="338.95" width="11.2" height="14.35" fill="#d9caa4"/><rect x="229.0" y="340.15" width="9.0" height="11.75" fill="#101012"/><rect x="229.0" y="349.7" width="2.2" height="2.2" fill="#d9caa4"/><rect x="235.79999999999998" y="349.7" width="2.2" height="2.2" fill="#d9caa4"/><rect x="229.9" y="341.15" width="7.199999999999999" height="1" fill="#2a2a2e"/></g>
<text transform="matrix(1,0.1,-0.2,1,243.8,333.6)" x="0" y="0" font-size="7.2" font-weight="700" font-style="italic" fill="#ffffff" font-family="'Liberation Sans','Noto Sans CJK SC',sans-serif">Ti</text>
<rect x="245" y="336.6" width="0.9" height="6.2" fill="#c7d6f8" opacity="0.6" transform="rotate(-8 245 336.6)"/>
<rect x="247.4" y="337" width="0.9" height="6.2" fill="#c7d6f8" opacity="0.5" transform="rotate(-8 247.4 337)"/>
<rect x="249.6" y="337.6" width="0.8" height="5" fill="#c7d6f8" opacity="0.4" transform="rotate(-8 249.6 337.6)"/>
<rect x="607.1" y="342.6" width="28.6" height="14.6" fill="url(#neckG)"/>
<polygon points="607.1,357 635.7,357 640.4,365.4 602.4,365.4" fill="url(#baseG)"/>
<rect x="599.4" y="365.2" width="43.4" height="1.3" rx="0.6" fill="#d4d4d4"/>
<path d="M547.3 331.4 H694.9 V341 Q694.9 343.2 692.7 343.2 H549.5 Q547.3 343.2 547.3 341 Z" fill="url(#chinG)"/>
<rect x="547.3" y="330.2" width="147.6" height="1.6" fill="#f4f4f4"/>
<path d="M546.2 244.2 Q546.2 241 549.4 241 H692.8 Q696 241 696 244.2 V330.2 H546.2 Z" fill="#0c0c0e"/>
<rect x="552.2" y="246.8" width="138.2" height="78" fill="#f4efe4"/>
<g clip-path="url(#mapClip)">
<rect x="571.2" y="254" width="119.2" height="70.8" fill="#f8f4ea"/>
<polygon points="648.0,253.7 661.1,253.7 663.9,264.9 667.2,272.4 669.9,279.9 672.3,287.3 674.7,295.3 680.7,294.8 686.3,290.1 691.9,286.4 691.9,326.5 658.3,326.5 662.0,319.0 664.8,313.4 666.7,306.0 664.8,299.4 661.1,293.8 656.4,290.1 650.8,287.3 645.2,286.4 639.6,287.3 637.8,284.5 640.6,278.0 643.4,270.5 646.2,263.1" fill="#a6c9f6" stroke="#a6c9f6" stroke-width="0.6" stroke-linejoin="round"/>
<polygon points="609.8,290.1 617.2,288.2 626.6,287.3 637.8,284.5 639.6,287.3 635.0,292.0 630.3,296.6 628.4,302.2 627.5,307.8 625.6,313.4 623.8,319.0 626.6,326.5 619.1,326.5 618.2,319.0 620.0,313.4 621.9,307.8 622.8,302.2 621.0,297.6 615.4,294.8 610.7,292.5" fill="#a6c9f6" stroke="#a6c9f6" stroke-width="0.6" stroke-linejoin="round"/>
<polygon points="570.6,311.6 578.1,312.5 583.7,315.3 589.3,319.4 594.9,322.8 602.3,326.5 570.6,326.5" fill="#a6c9f6" stroke="#a6c9f6" stroke-width="0.6" stroke-linejoin="round"/>
<ellipse cx="584.6" cy="275.2" rx="9.0" ry="4.1" fill="#c9e4a6"/>
<ellipse cx="591.5" cy="268.3" rx="3.7" ry="1.9" fill="#c9e4a6"/>
<ellipse cx="572.5" cy="267.2" rx="1.5" ry="3.4" fill="#c9e4a6"/>
<ellipse cx="634.4" cy="306.0" rx="1.9" ry="1.3" fill="#c9e4a6"/>
<ellipse cx="626.6" cy="321.8" rx="2.2" ry="1.5" fill="#c9e4a6"/>
<ellipse cx="640.6" cy="320.9" rx="2.2" ry="1.5" fill="#c9e4a6"/>
<ellipse cx="615.0" cy="318.7" rx="1.5" ry="1.5" fill="#c9e4a6"/>
<ellipse cx="629.4" cy="278.0" rx="1.5" ry="1.1" fill="#c9e4a6"/>
<path d="M570.6 272.4 L579.9 278.0 L589.3 282.6 L600.4 284.5 L611.6 283.6 L621.0 285.4 L630.3 287.3" fill="none" stroke="#f6d36e" stroke-width="0.85" stroke-linejoin="round" stroke-linecap="round" opacity="1"/>
<path d="M598.6 257.8 L602.3 264.9 L607.9 270.5 L615.4 274.3 L621.0 278.0 L626.6 282.6" fill="none" stroke="#f6d36e" stroke-width="0.85" stroke-linejoin="round" stroke-linecap="round" opacity="1"/>
<path d="M611.6 257.8 L609.8 264.9 L605.1 270.5 L598.6 275.2 L593.0 279.9" fill="none" stroke="#f6d36e" stroke-width="0.85" stroke-linejoin="round" stroke-linecap="round" opacity="1"/>
<path d="M572.5 294.8 L583.7 293.8 L594.9 294.8 L606.0 296.6 L615.4 300.4 L621.0 306.0" fill="none" stroke="#f6d36e" stroke-width="0.85" stroke-linejoin="round" stroke-linecap="round" opacity="1"/>
<path d="M572.5 304.1 L583.7 306.0 L594.9 309.7 L606.0 314.4 L615.4 315.3" fill="none" stroke="#f6d36e" stroke-width="0.85" stroke-linejoin="round" stroke-linecap="round" opacity="1"/>
<path d="M602.3 285.4 L604.2 292.9 L607.9 300.4 L613.5 306.0 L621.0 309.7" fill="none" stroke="#f6d36e" stroke-width="0.85" stroke-linejoin="round" stroke-linecap="round" opacity="1"/>
<path d="M626.6 304.1 L629.4 296.6 L635.9 290.1 L645.2 288.2 L654.6 291.0 L661.1 297.6 L663.9 306.0 L662.0 314.4 L656.4 320.9 L649.0 323.7 L639.6 322.8 L632.2 319.0 L627.5 312.5 L626.6 304.1" fill="none" stroke="#f6d36e" stroke-width="0.85" stroke-linejoin="round" stroke-linecap="round" opacity="1"/>
<path d="M635.9 292.9 L643.4 298.5 L650.8 304.1 L658.3 309.7 L662.0 314.4" fill="none" stroke="#f6d36e" stroke-width="0.85" stroke-linejoin="round" stroke-linecap="round" opacity="1"/>
<path d="M630.3 311.6 L639.6 309.7 L649.0 307.8 L658.3 306.0 L663.9 304.1" fill="none" stroke="#f6d36e" stroke-width="0.85" stroke-linejoin="round" stroke-linecap="round" opacity="1"/>
<path d="M643.4 289.2 L644.3 298.5 L645.2 307.8 L643.4 317.2 L641.5 323.7" fill="none" stroke="#f6d36e" stroke-width="0.85" stroke-linejoin="round" stroke-linecap="round" opacity="1"/>
<path d="M675.1 257.8 L677.3 268.7 L675.4 281.7 L669.9 292.9 L662.4 300.0" fill="none" stroke="#f6d36e" stroke-width="0.85" stroke-linejoin="round" stroke-linecap="round" opacity="1"/>
<path d="M634.0 257.8 L634.4 266.8 L636.8 274.3 L639.6 279.9 L645.2 287.3" fill="none" stroke="#f6d36e" stroke-width="0.85" stroke-linejoin="round" stroke-linecap="round" opacity="1"/>
<path d="M583.7 257.8 L587.4 263.1 L594.9 266.8 L602.3 268.7" fill="none" stroke="#f6d36e" stroke-width="0.85" stroke-linejoin="round" stroke-linecap="round" opacity="1"/>
<path d="M576.2 311.6 L585.5 313.4 L594.9 315.3 L604.2 319.0" fill="none" stroke="#f6d36e" stroke-width="0.85" stroke-linejoin="round" stroke-linecap="round" opacity="1"/>
<path d="M676.9 274.3 L682.5 275.2 L689.1 274.3" fill="none" stroke="#f6d36e" stroke-width="0.85" stroke-linejoin="round" stroke-linecap="round" opacity="1"/>
<path d="M621.0 270.5 L626.6 274.3 L632.2 278.0 L637.8 282.6" fill="none" stroke="#f6d36e" stroke-width="0.85" stroke-linejoin="round" stroke-linecap="round" opacity="1"/>
<path d="M650.8 257.8 L649.0 263.1 L645.2 266.8 L639.6 268.7 L635.9 267.7" fill="none" stroke="#f6d36e" stroke-width="0.85" stroke-linejoin="round" stroke-linecap="round" opacity="1"/>
<path d="M571.5 261.2 L578.1 264.0 L585.5 263.4 L593.0 261.2 L600.4 261.6" fill="none" stroke="#f6d36e" stroke-width="0.7" stroke-linejoin="round" stroke-linecap="round" opacity="0.95"/>
<path d="M613.5 261.2 L619.1 265.9 L624.7 268.7 L628.4 261.6" fill="none" stroke="#f6d36e" stroke-width="0.7" stroke-linejoin="round" stroke-linecap="round" opacity="0.95"/>
<path d="M576.2 288.2 L587.4 289.2 L598.6 288.2 L609.8 290.1" fill="none" stroke="#f6d36e" stroke-width="0.7" stroke-linejoin="round" stroke-linecap="round" opacity="0.95"/>
<path d="M587.4 296.6 L593.0 306.0 L602.3 311.6 L611.6 314.4" fill="none" stroke="#f6d36e" stroke-width="0.7" stroke-linejoin="round" stroke-linecap="round" opacity="0.95"/>
<path d="M632.2 306.0 L639.6 312.5 L649.0 315.3 L658.3 313.4" fill="none" stroke="#f6d36e" stroke-width="0.7" stroke-linejoin="round" stroke-linecap="round" opacity="0.95"/>
<path d="M635.9 296.6 L647.1 294.8 L658.3 298.5" fill="none" stroke="#f6d36e" stroke-width="0.7" stroke-linejoin="round" stroke-linecap="round" opacity="0.95"/>
<path d="M665.7 261.2 L671.3 268.7 L676.9 274.3 L684.4 278.0 L689.1 279.9" fill="none" stroke="#f6d36e" stroke-width="0.7" stroke-linejoin="round" stroke-linecap="round" opacity="0.95"/>
<path d="M678.8 261.2 L682.5 266.8 L686.3 270.5" fill="none" stroke="#f6d36e" stroke-width="0.7" stroke-linejoin="round" stroke-linecap="round" opacity="0.95"/>
<path d="M649.0 296.6 L652.7 306.0 L650.8 315.3 L647.1 323.7" fill="none" stroke="#f6d36e" stroke-width="0.7" stroke-linejoin="round" stroke-linecap="round" opacity="0.95"/>
<path d="M571.5 315.3 L576.2 319.0 L583.7 322.8" fill="none" stroke="#f6d36e" stroke-width="0.7" stroke-linejoin="round" stroke-linecap="round" opacity="0.95"/>
<path d="M602.3 302.2 L611.6 304.1 L621.0 303.2" fill="none" stroke="#f6d36e" stroke-width="0.7" stroke-linejoin="round" stroke-linecap="round" opacity="0.95"/>
<path d="M639.6 261.2 L641.5 266.8 L640.6 272.4 L638.7 278.0" fill="none" stroke="#f6d36e" stroke-width="0.7" stroke-linejoin="round" stroke-linecap="round" opacity="0.95"/>
<path d="M570.6 285.8 L583.7 283.6 L594.9 280.8 L607.9 276.1 L619.1 270.5 L628.4 263.4 L636.3 257.8" fill="none" stroke="#f29a4e" stroke-width="1.25" stroke-linejoin="round" stroke-linecap="round" opacity="1"/>
<path d="M570.6 278.0 L578.1 285.4 L585.5 293.3 L593.0 302.6 L595.2 311.6 L593.0 326.5" fill="none" stroke="#f29a4e" stroke-width="1.2" stroke-linejoin="round" stroke-linecap="round" opacity="1"/>
<path d="M594.9 311.6 L602.3 313.4 L609.8 315.3" fill="none" stroke="#f29a4e" stroke-width="0.8" stroke-linejoin="round" stroke-linecap="round" opacity="1"/>
<path d="M576.2 263.1 L581.8 268.7 L587.4 272.4" fill="none" stroke="#ffffff" stroke-width="0.6" stroke-linejoin="round" stroke-linecap="round" opacity="0.9"/>
<path d="M593.0 287.3 L598.6 292.9 L602.3 298.5" fill="none" stroke="#ffffff" stroke-width="0.6" stroke-linejoin="round" stroke-linecap="round" opacity="0.9"/>
<path d="M607.9 279.9 L613.5 285.4 L617.2 287.3" fill="none" stroke="#ffffff" stroke-width="0.6" stroke-linejoin="round" stroke-linecap="round" opacity="0.9"/>
<path d="M632.2 298.5 L639.6 302.2 L647.1 303.2" fill="none" stroke="#ffffff" stroke-width="0.6" stroke-linejoin="round" stroke-linecap="round" opacity="0.9"/>
<path d="M650.8 313.4 L656.4 315.3 L660.1 314.4" fill="none" stroke="#ffffff" stroke-width="0.6" stroke-linejoin="round" stroke-linecap="round" opacity="0.9"/>
<path d="M665.7 264.9 L671.3 270.5 L676.9 272.4" fill="none" stroke="#ffffff" stroke-width="0.6" stroke-linejoin="round" stroke-linecap="round" opacity="0.9"/>
<path d="M678.8 283.6 L684.4 285.4 L689.1 284.5" fill="none" stroke="#ffffff" stroke-width="0.6" stroke-linejoin="round" stroke-linecap="round" opacity="0.9"/>
<circle cx="621.9" cy="270.9" r="1.49" fill="#2a7be4"/>
<circle cx="628.4" cy="261.6" r="1.49" fill="#3a8a5a"/>
<circle cx="615.9" cy="310.1" r="1.49" fill="#3a8a5a"/>
<circle cx="640.6" cy="315.7" r="1.49" fill="#3a8a5a"/>
<circle cx="645.6" cy="306.9" r="1.49" fill="#2a7be4"/>
<circle cx="609.4" cy="294.2" r="0.93" fill="#e0506a"/>
<circle cx="623.8" cy="282.1" r="0.93" fill="#e0506a"/>
<circle cx="600.4" cy="261.6" r="0.93" fill="#e0506a"/>
<circle cx="587.4" cy="261.6" r="0.93" fill="#6aa8f0"/>
<circle cx="680.7" cy="274.3" r="0.93" fill="#6aa8f0"/>
<circle cx="638.7" cy="298.1" r="0.75" fill="#b08ae0"/>
<circle cx="578.1" cy="295.7" r="0.75" fill="#b08ae0"/>
<circle cx="659.2" cy="309.3" r="0.75" fill="#6ac0f0"/>
<rect x="682.8" y="260.2" width="5.6" height="4.4" fill="#3a9cf0"/>
<rect x="571.2" y="283.6" width="1.2" height="6.4" fill="#57aaf3"/>
</g>
<rect x="571.2" y="253.8" width="119.2" height="3.6" fill="#ffffff"/>
<rect x="573.2" y="254.8" width="1.5" height="1.6" fill="#333"/>
<rect x="575.8" y="255.2" width="5" height="0.9" fill="#888"/>
<rect x="552.2" y="253.8" width="19" height="71" fill="#252839"/>
<rect x="552.2" y="253.8" width="19" height="21" fill="#3a3d52"/>
<rect x="552.2" y="253.8" width="19" height="3" fill="#303346"/>
<rect x="560.4" y="254.8" width="1.6" height="0.9" fill="#8d90a3"/>
<rect x="552.2" y="257.4" width="19" height="4.4" fill="#1e90f0"/>
<rect x="553.8" y="258.8" width="1.6" height="1.6" fill="#ffffff" opacity="0.95"/>
<rect x="556.4" y="259.1" width="4" height="1" fill="#ffffff" opacity="0.75"/>
<rect x="553.8" y="263.3" width="1.6" height="1.6" fill="#ffffff" opacity="0.95"/>
<rect x="556.4" y="263.6" width="4.4" height="1" fill="#ffffff" opacity="0.75"/>
<rect x="553.8" y="267.8" width="1.6" height="1.6" fill="#ffffff" opacity="0.95"/>
<rect x="556.4" y="268.1" width="7.4" height="1" fill="#ffffff" opacity="0.75"/>
<rect x="553.8" y="272.3" width="1.6" height="1.6" fill="#ffffff" opacity="0.95"/>
<rect x="556.4" y="272.6" width="4.4" height="1" fill="#ffffff" opacity="0.75"/>
<rect x="552.2" y="246.8" width="138.2" height="7.1" fill="#1e90f0"/>
<text x="553.6" y="252.4" font-size="5" font-weight="700" font-style="italic" fill="#ffffff" font-family="'Liberation Sans','Noto Sans CJK SC',sans-serif">Ti</text>
<rect x="558.6" y="248.8" width="3.6" height="3" fill="#ffffff" opacity="0.45"/>
<text x="565.2" y="251.7" font-size="3.3" font-weight="700" fill="#ffffff" font-family="'Liberation Sans','Noto Sans CJK SC',sans-serif" textLength="20.6" lengthAdjust="spacingAndGlyphs">智慧水务云平台</text>
<rect x="591" y="249.6" width="2.2" height="1.6" fill="#ffffff" opacity="0.95"/>
<rect x="599.2" y="247.8" width="2.8" height="2.6" rx="0.6" fill="#ffffff" opacity="0.8"/>
<rect x="598.0" y="251.4" width="5.2" height="0.9" fill="#ffffff" opacity="0.55"/>
<rect x="611.0" y="247.8" width="2.8" height="2.6" rx="0.6" fill="#ffffff" opacity="0.8"/>
<rect x="609.8" y="251.4" width="5.2" height="0.9" fill="#ffffff" opacity="0.55"/>
<rect x="622.2" y="247.8" width="2.8" height="2.6" rx="0.6" fill="#ffffff" opacity="0.8"/>
<rect x="621.0" y="251.4" width="5.2" height="0.9" fill="#ffffff" opacity="0.55"/>
<rect x="633.6" y="247.8" width="2.8" height="2.6" rx="0.6" fill="#ffffff" opacity="0.8"/>
<rect x="632.4" y="251.4" width="5.2" height="0.9" fill="#ffffff" opacity="0.55"/>
<rect x="645.4" y="247.8" width="2.8" height="2.6" rx="0.6" fill="#ffffff" opacity="0.8"/>
<rect x="644.1999999999999" y="251.4" width="5.2" height="0.9" fill="#ffffff" opacity="0.55"/>
<rect x="659.6" y="249.6" width="2" height="1.4" fill="#ffffff" opacity="0.95"/>
<circle cx="671.4" cy="250.4" r="1.5" fill="#ffffff" opacity="0.9"/>
<rect x="674.6" y="249.8" width="6.2" height="1.1" fill="#ffffff" opacity="0.5"/>
<rect x="682.6" y="249.4" width="1.4" height="1.8" fill="#ffffff" opacity="0.6"/>
<rect x="685.6" y="249.4" width="1.4" height="1.8" fill="#ffffff" opacity="0.6"/>
</g>
</svg>
</body>
</html>
